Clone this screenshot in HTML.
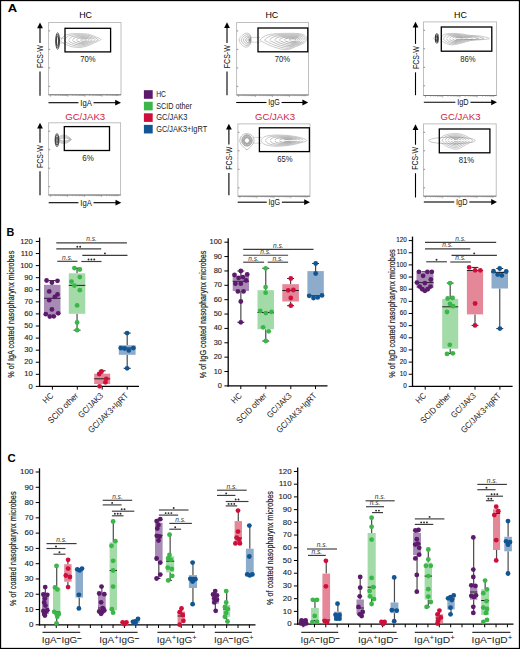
<!DOCTYPE html><html><head><meta charset="utf-8"><style>html,body{margin:0;padding:0;background:#fff;}svg{display:block;}text{font-family:"Liberation Sans", sans-serif;}</style></head><body>
<svg width="520" height="649" viewBox="0 0 520 649">
<rect x="0" y="0" width="520" height="649" fill="#fff"/>
<text x="7.70" y="11.50" font-size="11.0" text-anchor="start" fill="#000" font-weight="bold" textLength="9.4" lengthAdjust="spacingAndGlyphs" >A</text>
<text x="6.60" y="235.60" font-size="10.8" text-anchor="start" fill="#000" font-weight="bold" >B</text>
<text x="7.60" y="462.20" font-size="11.4" text-anchor="start" fill="#000" font-weight="bold" >C</text>
<rect x="48.60" y="22.50" width="72.40" height="72.30" fill="none" stroke="#b9b9b9" stroke-width="0.9"/>
<line x1="48.60" y1="94.80" x2="121.00" y2="94.80" stroke="#6a6a6a" stroke-width="0.9"/>
<line x1="48.60" y1="30.90" x2="50.20" y2="30.90" stroke="#777" stroke-width="0.8"/>
<line x1="48.60" y1="49.40" x2="50.20" y2="49.40" stroke="#777" stroke-width="0.8"/>
<line x1="48.60" y1="67.90" x2="50.20" y2="67.90" stroke="#777" stroke-width="0.8"/>
<line x1="48.60" y1="86.40" x2="50.20" y2="86.40" stroke="#777" stroke-width="0.8"/>
<line x1="50.60" y1="94.80" x2="50.60" y2="96.80" stroke="#888" stroke-width="0.6"/>
<line x1="55.75" y1="94.80" x2="55.75" y2="96.00" stroke="#888" stroke-width="0.6"/>
<line x1="58.76" y1="94.80" x2="58.76" y2="96.00" stroke="#888" stroke-width="0.6"/>
<line x1="60.90" y1="94.80" x2="60.90" y2="96.00" stroke="#888" stroke-width="0.6"/>
<line x1="62.55" y1="94.80" x2="62.55" y2="96.00" stroke="#888" stroke-width="0.6"/>
<line x1="63.91" y1="94.80" x2="63.91" y2="96.00" stroke="#888" stroke-width="0.6"/>
<line x1="65.05" y1="94.80" x2="65.05" y2="96.00" stroke="#888" stroke-width="0.6"/>
<line x1="66.04" y1="94.80" x2="66.04" y2="96.00" stroke="#888" stroke-width="0.6"/>
<line x1="66.92" y1="94.80" x2="66.92" y2="96.00" stroke="#888" stroke-width="0.6"/>
<line x1="67.70" y1="94.80" x2="67.70" y2="96.80" stroke="#888" stroke-width="0.6"/>
<line x1="72.85" y1="94.80" x2="72.85" y2="96.00" stroke="#888" stroke-width="0.6"/>
<line x1="75.86" y1="94.80" x2="75.86" y2="96.00" stroke="#888" stroke-width="0.6"/>
<line x1="78.00" y1="94.80" x2="78.00" y2="96.00" stroke="#888" stroke-width="0.6"/>
<line x1="79.65" y1="94.80" x2="79.65" y2="96.00" stroke="#888" stroke-width="0.6"/>
<line x1="81.01" y1="94.80" x2="81.01" y2="96.00" stroke="#888" stroke-width="0.6"/>
<line x1="82.15" y1="94.80" x2="82.15" y2="96.00" stroke="#888" stroke-width="0.6"/>
<line x1="83.14" y1="94.80" x2="83.14" y2="96.00" stroke="#888" stroke-width="0.6"/>
<line x1="84.02" y1="94.80" x2="84.02" y2="96.00" stroke="#888" stroke-width="0.6"/>
<line x1="84.80" y1="94.80" x2="84.80" y2="96.80" stroke="#888" stroke-width="0.6"/>
<line x1="89.95" y1="94.80" x2="89.95" y2="96.00" stroke="#888" stroke-width="0.6"/>
<line x1="92.96" y1="94.80" x2="92.96" y2="96.00" stroke="#888" stroke-width="0.6"/>
<line x1="95.10" y1="94.80" x2="95.10" y2="96.00" stroke="#888" stroke-width="0.6"/>
<line x1="96.75" y1="94.80" x2="96.75" y2="96.00" stroke="#888" stroke-width="0.6"/>
<line x1="98.11" y1="94.80" x2="98.11" y2="96.00" stroke="#888" stroke-width="0.6"/>
<line x1="99.25" y1="94.80" x2="99.25" y2="96.00" stroke="#888" stroke-width="0.6"/>
<line x1="100.24" y1="94.80" x2="100.24" y2="96.00" stroke="#888" stroke-width="0.6"/>
<line x1="101.12" y1="94.80" x2="101.12" y2="96.00" stroke="#888" stroke-width="0.6"/>
<line x1="101.90" y1="94.80" x2="101.90" y2="96.80" stroke="#888" stroke-width="0.6"/>
<line x1="107.05" y1="94.80" x2="107.05" y2="96.00" stroke="#888" stroke-width="0.6"/>
<line x1="110.06" y1="94.80" x2="110.06" y2="96.00" stroke="#888" stroke-width="0.6"/>
<line x1="112.20" y1="94.80" x2="112.20" y2="96.00" stroke="#888" stroke-width="0.6"/>
<line x1="113.85" y1="94.80" x2="113.85" y2="96.00" stroke="#888" stroke-width="0.6"/>
<line x1="115.21" y1="94.80" x2="115.21" y2="96.00" stroke="#888" stroke-width="0.6"/>
<line x1="116.35" y1="94.80" x2="116.35" y2="96.00" stroke="#888" stroke-width="0.6"/>
<line x1="117.34" y1="94.80" x2="117.34" y2="96.00" stroke="#888" stroke-width="0.6"/>
<line x1="118.22" y1="94.80" x2="118.22" y2="96.00" stroke="#888" stroke-width="0.6"/>
<ellipse cx="57.6" cy="41.0" rx="1.90" ry="8.20" fill="none" stroke="#2a2a2a" stroke-width="0.8"/>
<ellipse cx="57.6" cy="41.0" rx="1.47" ry="6.35" fill="none" stroke="#2a2a2a" stroke-width="0.8"/>
<ellipse cx="57.6" cy="41.0" rx="1.04" ry="4.51" fill="none" stroke="#2a2a2a" stroke-width="0.8"/>
<line x1="59.50" y1="38.20" x2="64.00" y2="38.20" stroke="#999" stroke-width="0.5"/>
<line x1="59.50" y1="43.00" x2="64.00" y2="43.00" stroke="#999" stroke-width="0.5"/>
<path d="M61.00,40.00 C61.42,39.00 62.50,37.00 64.00,36.00 C65.50,35.00 67.33,34.40 70.00,34.00 C72.67,33.60 77.00,33.57 80.00,33.60 C83.00,33.63 85.50,33.72 88.00,34.20 C90.50,34.68 92.87,35.63 95.00,36.50 C97.13,37.37 100.63,38.48 100.80,39.40 C100.97,40.32 97.97,41.02 96.00,42.00 C94.03,42.98 91.50,44.40 89.00,45.30 C86.50,46.20 83.83,47.15 81.00,47.40 C78.17,47.65 74.67,47.37 72.00,46.80 C69.33,46.23 66.75,44.80 65.00,44.00 C63.25,43.20 62.17,42.67 61.50,42.00 C60.83,41.33 60.58,41.00 61.00,40.00 Z" fill="none" stroke="#969696" stroke-width="0.5"/>
<path d="M64.91,40.00 C65.26,39.17 66.16,37.51 67.40,36.68 C68.65,35.85 70.17,35.35 72.38,35.02 C74.59,34.69 78.19,34.66 80.68,34.69 C83.17,34.72 85.24,34.78 87.32,35.19 C89.39,35.59 91.36,36.38 93.13,37.09 C94.90,37.81 97.81,38.74 97.94,39.50 C98.08,40.26 95.59,40.84 93.96,41.66 C92.33,42.48 90.23,43.65 88.15,44.40 C86.08,45.15 83.86,45.93 81.51,46.14 C79.16,46.35 76.25,46.11 74.04,45.64 C71.83,45.17 69.68,43.98 68.23,43.32 C66.78,42.66 65.88,42.21 65.33,41.66 C64.77,41.11 64.56,40.83 64.91,40.00 Z" fill="none" stroke="#888888" stroke-width="0.5"/>
<path d="M68.82,40.00 C69.09,39.34 69.81,38.02 70.80,37.36 C71.79,36.70 73.00,36.30 74.76,36.04 C76.52,35.78 79.38,35.75 81.36,35.78 C83.34,35.80 84.99,35.85 86.64,36.17 C88.29,36.49 89.85,37.12 91.26,37.69 C92.67,38.26 94.98,39.00 95.09,39.60 C95.20,40.21 93.22,40.67 91.92,41.32 C90.62,41.97 88.95,42.90 87.30,43.50 C85.65,44.09 83.89,44.72 82.02,44.88 C80.15,45.05 77.84,44.86 76.08,44.49 C74.32,44.11 72.61,43.17 71.46,42.64 C70.30,42.11 69.59,41.76 69.15,41.32 C68.71,40.88 68.54,40.66 68.82,40.00 Z" fill="none" stroke="#7a7a7a" stroke-width="0.5"/>
<path d="M72.73,40.00 C72.93,39.51 73.47,38.53 74.20,38.04 C74.94,37.55 75.83,37.26 77.14,37.06 C78.45,36.86 80.57,36.85 82.04,36.86 C83.51,36.88 84.73,36.92 85.96,37.16 C87.18,37.39 88.34,37.86 89.39,38.28 C90.44,38.71 92.15,39.26 92.23,39.71 C92.31,40.16 90.84,40.50 89.88,40.98 C88.92,41.46 87.67,42.16 86.45,42.60 C85.23,43.04 83.92,43.50 82.53,43.63 C81.14,43.75 79.43,43.61 78.12,43.33 C76.81,43.05 75.55,42.35 74.69,41.96 C73.83,41.57 73.30,41.31 72.97,40.98 C72.65,40.65 72.53,40.49 72.73,40.00 Z" fill="none" stroke="#6c6c6c" stroke-width="0.5"/>
<path d="M76.64,40.00 C76.77,39.68 77.12,39.04 77.60,38.72 C78.08,38.40 78.67,38.21 79.52,38.08 C80.37,37.95 81.76,37.94 82.72,37.95 C83.68,37.96 84.48,37.99 85.28,38.14 C86.08,38.30 86.84,38.60 87.52,38.88 C88.20,39.16 89.32,39.51 89.38,39.81 C89.43,40.10 88.47,40.33 87.84,40.64 C87.21,40.95 86.40,41.41 85.60,41.70 C84.80,41.98 83.95,42.29 83.04,42.37 C82.13,42.45 81.01,42.36 80.16,42.18 C79.31,41.99 78.48,41.54 77.92,41.28 C77.36,41.02 77.01,40.85 76.80,40.64 C76.59,40.43 76.51,40.32 76.64,40.00 Z" fill="none" stroke="#5e5e5e" stroke-width="0.5"/>
<path d="M80.55,40.00 C80.61,39.85 80.78,39.55 81.00,39.40 C81.22,39.25 81.50,39.16 81.90,39.10 C82.30,39.04 82.95,39.03 83.40,39.04 C83.85,39.05 84.22,39.06 84.60,39.13 C84.97,39.20 85.33,39.34 85.65,39.48 C85.97,39.61 86.50,39.77 86.52,39.91 C86.54,40.05 86.09,40.15 85.80,40.30 C85.50,40.45 85.12,40.66 84.75,40.80 C84.38,40.93 83.97,41.07 83.55,41.11 C83.12,41.15 82.60,41.11 82.20,41.02 C81.80,40.94 81.41,40.72 81.15,40.60 C80.89,40.48 80.72,40.40 80.62,40.30 C80.53,40.20 80.49,40.15 80.55,40.00 Z" fill="none" stroke="#505050" stroke-width="0.5"/>
<line x1="67.00" y1="40.00" x2="96.00" y2="40.00" stroke="#fff" stroke-width="0.7"/>
<rect x="65.00" y="28.30" width="45.60" height="23.60" fill="none" stroke="#000" stroke-width="1.3"/>
<text x="88.00" y="62.00" font-size="8.2" text-anchor="middle" fill="#222" textLength="15.4" lengthAdjust="spacingAndGlyphs" >70%</text>
<text x="85.60" y="18.10" font-size="9.3" text-anchor="middle" fill="#000" textLength="12.8" lengthAdjust="spacingAndGlyphs" >HC</text>
<line x1="40.00" y1="95.80" x2="40.00" y2="71.45" stroke="#000" stroke-width="1.1"/>
<line x1="40.00" y1="42.95" x2="40.00" y2="27.40" stroke="#000" stroke-width="1.1"/>
<path d="M37.10,28.20 L40.00,22.40 L42.90,28.20 Z" fill="#000"/>
<text x="43.00" y="56.60" font-size="9.8" text-anchor="middle" fill="#111" textLength="22.900000000000002" lengthAdjust="spacingAndGlyphs" transform="rotate(-90 43.00 56.60)" >FCS-W</text>
<line x1="48.50" y1="102.70" x2="78.45" y2="102.70" stroke="#000" stroke-width="1.1"/>
<line x1="93.55" y1="102.70" x2="116.00" y2="102.70" stroke="#000" stroke-width="1.1"/>
<path d="M115.20,99.80 L121.00,102.70 L115.20,105.60 Z" fill="#000"/>
<text x="86.00" y="105.60" font-size="9.0" text-anchor="middle" fill="#111" textLength="11.5" lengthAdjust="spacingAndGlyphs" >IgA</text>
<rect x="48.60" y="122.80" width="72.00" height="72.20" fill="none" stroke="#b9b9b9" stroke-width="0.9"/>
<line x1="48.60" y1="195.00" x2="120.60" y2="195.00" stroke="#6a6a6a" stroke-width="0.9"/>
<line x1="48.60" y1="131.20" x2="50.20" y2="131.20" stroke="#777" stroke-width="0.8"/>
<line x1="48.60" y1="149.70" x2="50.20" y2="149.70" stroke="#777" stroke-width="0.8"/>
<line x1="48.60" y1="168.20" x2="50.20" y2="168.20" stroke="#777" stroke-width="0.8"/>
<line x1="48.60" y1="186.70" x2="50.20" y2="186.70" stroke="#777" stroke-width="0.8"/>
<line x1="50.60" y1="195.00" x2="50.60" y2="197.00" stroke="#888" stroke-width="0.6"/>
<line x1="55.72" y1="195.00" x2="55.72" y2="196.20" stroke="#888" stroke-width="0.6"/>
<line x1="58.71" y1="195.00" x2="58.71" y2="196.20" stroke="#888" stroke-width="0.6"/>
<line x1="60.84" y1="195.00" x2="60.84" y2="196.20" stroke="#888" stroke-width="0.6"/>
<line x1="62.48" y1="195.00" x2="62.48" y2="196.20" stroke="#888" stroke-width="0.6"/>
<line x1="63.83" y1="195.00" x2="63.83" y2="196.20" stroke="#888" stroke-width="0.6"/>
<line x1="64.97" y1="195.00" x2="64.97" y2="196.20" stroke="#888" stroke-width="0.6"/>
<line x1="65.95" y1="195.00" x2="65.95" y2="196.20" stroke="#888" stroke-width="0.6"/>
<line x1="66.82" y1="195.00" x2="66.82" y2="196.20" stroke="#888" stroke-width="0.6"/>
<line x1="67.60" y1="195.00" x2="67.60" y2="197.00" stroke="#888" stroke-width="0.6"/>
<line x1="72.72" y1="195.00" x2="72.72" y2="196.20" stroke="#888" stroke-width="0.6"/>
<line x1="75.71" y1="195.00" x2="75.71" y2="196.20" stroke="#888" stroke-width="0.6"/>
<line x1="77.84" y1="195.00" x2="77.84" y2="196.20" stroke="#888" stroke-width="0.6"/>
<line x1="79.48" y1="195.00" x2="79.48" y2="196.20" stroke="#888" stroke-width="0.6"/>
<line x1="80.83" y1="195.00" x2="80.83" y2="196.20" stroke="#888" stroke-width="0.6"/>
<line x1="81.97" y1="195.00" x2="81.97" y2="196.20" stroke="#888" stroke-width="0.6"/>
<line x1="82.95" y1="195.00" x2="82.95" y2="196.20" stroke="#888" stroke-width="0.6"/>
<line x1="83.82" y1="195.00" x2="83.82" y2="196.20" stroke="#888" stroke-width="0.6"/>
<line x1="84.60" y1="195.00" x2="84.60" y2="197.00" stroke="#888" stroke-width="0.6"/>
<line x1="89.72" y1="195.00" x2="89.72" y2="196.20" stroke="#888" stroke-width="0.6"/>
<line x1="92.71" y1="195.00" x2="92.71" y2="196.20" stroke="#888" stroke-width="0.6"/>
<line x1="94.84" y1="195.00" x2="94.84" y2="196.20" stroke="#888" stroke-width="0.6"/>
<line x1="96.48" y1="195.00" x2="96.48" y2="196.20" stroke="#888" stroke-width="0.6"/>
<line x1="97.83" y1="195.00" x2="97.83" y2="196.20" stroke="#888" stroke-width="0.6"/>
<line x1="98.97" y1="195.00" x2="98.97" y2="196.20" stroke="#888" stroke-width="0.6"/>
<line x1="99.95" y1="195.00" x2="99.95" y2="196.20" stroke="#888" stroke-width="0.6"/>
<line x1="100.82" y1="195.00" x2="100.82" y2="196.20" stroke="#888" stroke-width="0.6"/>
<line x1="101.60" y1="195.00" x2="101.60" y2="197.00" stroke="#888" stroke-width="0.6"/>
<line x1="106.72" y1="195.00" x2="106.72" y2="196.20" stroke="#888" stroke-width="0.6"/>
<line x1="109.71" y1="195.00" x2="109.71" y2="196.20" stroke="#888" stroke-width="0.6"/>
<line x1="111.84" y1="195.00" x2="111.84" y2="196.20" stroke="#888" stroke-width="0.6"/>
<line x1="113.48" y1="195.00" x2="113.48" y2="196.20" stroke="#888" stroke-width="0.6"/>
<line x1="114.83" y1="195.00" x2="114.83" y2="196.20" stroke="#888" stroke-width="0.6"/>
<line x1="115.97" y1="195.00" x2="115.97" y2="196.20" stroke="#888" stroke-width="0.6"/>
<line x1="116.95" y1="195.00" x2="116.95" y2="196.20" stroke="#888" stroke-width="0.6"/>
<line x1="117.82" y1="195.00" x2="117.82" y2="196.20" stroke="#888" stroke-width="0.6"/>
<path d="M57.50,139.50 C59.12,135.00 63.35,135.00 64.00,135.00 C67.38,135.00 70.00,137.93 71.50,139.50 C70.00,140.94 67.38,143.60 64.00,143.60 C63.35,143.60 59.12,143.60 57.50,139.50 Z" fill="none" stroke="#9a9a9a" stroke-width="0.5"/>
<path d="M58.23,139.50 C59.67,136.01 63.42,136.01 64.00,136.01 C67.19,136.01 69.66,138.28 71.08,139.50 C69.66,140.61 67.19,142.68 64.00,142.68 C63.42,142.68 59.67,142.68 58.23,139.50 Z" fill="none" stroke="#9a9a9a" stroke-width="0.5"/>
<path d="M58.96,139.50 C60.22,137.03 63.50,137.03 64.00,137.03 C67.00,137.03 69.33,138.63 70.66,139.50 C69.33,140.29 67.00,141.75 64.00,141.75 C63.50,141.75 60.22,141.75 58.96,139.50 Z" fill="none" stroke="#9a9a9a" stroke-width="0.5"/>
<path d="M59.69,139.50 C60.77,138.04 63.57,138.04 64.00,138.04 C66.81,138.04 68.99,138.99 70.23,139.50 C68.99,139.97 66.81,140.83 64.00,140.83 C63.57,140.83 60.77,140.83 59.69,139.50 Z" fill="none" stroke="#9a9a9a" stroke-width="0.5"/>
<ellipse cx="57.0" cy="140.1" rx="1.90" ry="6.60" fill="none" stroke="#2a2a2a" stroke-width="0.8"/>
<ellipse cx="57.0" cy="140.1" rx="1.42" ry="4.95" fill="none" stroke="#2a2a2a" stroke-width="0.8"/>
<ellipse cx="57.0" cy="140.1" rx="0.95" ry="3.30" fill="none" stroke="#2a2a2a" stroke-width="0.8"/>
<rect x="64.30" y="126.60" width="45.20" height="23.90" fill="none" stroke="#000" stroke-width="1.3"/>
<text x="88.10" y="160.70" font-size="8.2" text-anchor="middle" fill="#222" textLength="11.6" lengthAdjust="spacingAndGlyphs" >6%</text>
<text x="85.20" y="120.00" font-size="9.3" text-anchor="middle" fill="#d0233f" textLength="40.0" lengthAdjust="spacingAndGlyphs" >GC/JAK3</text>
<line x1="40.00" y1="195.30" x2="40.00" y2="171.35" stroke="#000" stroke-width="1.1"/>
<line x1="40.00" y1="142.85" x2="40.00" y2="127.70" stroke="#000" stroke-width="1.1"/>
<path d="M37.10,128.50 L40.00,122.70 L42.90,128.50 Z" fill="#000"/>
<text x="43.00" y="156.50" font-size="9.8" text-anchor="middle" fill="#111" textLength="22.900000000000002" lengthAdjust="spacingAndGlyphs" transform="rotate(-90 43.00 156.50)" >FCS-W</text>
<line x1="48.70" y1="202.70" x2="78.45" y2="202.70" stroke="#000" stroke-width="1.1"/>
<line x1="93.55" y1="202.70" x2="116.30" y2="202.70" stroke="#000" stroke-width="1.1"/>
<path d="M115.50,199.80 L121.30,202.70 L115.50,205.60 Z" fill="#000"/>
<text x="86.00" y="205.60" font-size="9.0" text-anchor="middle" fill="#111" textLength="11.5" lengthAdjust="spacingAndGlyphs" >IgA</text>
<rect x="236.60" y="22.50" width="71.90" height="72.50" fill="none" stroke="#b9b9b9" stroke-width="0.9"/>
<line x1="236.60" y1="95.00" x2="308.50" y2="95.00" stroke="#6a6a6a" stroke-width="0.9"/>
<line x1="236.60" y1="30.90" x2="238.20" y2="30.90" stroke="#777" stroke-width="0.8"/>
<line x1="236.60" y1="49.40" x2="238.20" y2="49.40" stroke="#777" stroke-width="0.8"/>
<line x1="236.60" y1="67.90" x2="238.20" y2="67.90" stroke="#777" stroke-width="0.8"/>
<line x1="236.60" y1="86.40" x2="238.20" y2="86.40" stroke="#777" stroke-width="0.8"/>
<line x1="238.60" y1="95.00" x2="238.60" y2="97.00" stroke="#888" stroke-width="0.6"/>
<line x1="243.71" y1="95.00" x2="243.71" y2="96.20" stroke="#888" stroke-width="0.6"/>
<line x1="246.70" y1="95.00" x2="246.70" y2="96.20" stroke="#888" stroke-width="0.6"/>
<line x1="248.82" y1="95.00" x2="248.82" y2="96.20" stroke="#888" stroke-width="0.6"/>
<line x1="250.47" y1="95.00" x2="250.47" y2="96.20" stroke="#888" stroke-width="0.6"/>
<line x1="251.81" y1="95.00" x2="251.81" y2="96.20" stroke="#888" stroke-width="0.6"/>
<line x1="252.95" y1="95.00" x2="252.95" y2="96.20" stroke="#888" stroke-width="0.6"/>
<line x1="253.93" y1="95.00" x2="253.93" y2="96.20" stroke="#888" stroke-width="0.6"/>
<line x1="254.80" y1="95.00" x2="254.80" y2="96.20" stroke="#888" stroke-width="0.6"/>
<line x1="255.57" y1="95.00" x2="255.57" y2="97.00" stroke="#888" stroke-width="0.6"/>
<line x1="260.68" y1="95.00" x2="260.68" y2="96.20" stroke="#888" stroke-width="0.6"/>
<line x1="263.67" y1="95.00" x2="263.67" y2="96.20" stroke="#888" stroke-width="0.6"/>
<line x1="265.79" y1="95.00" x2="265.79" y2="96.20" stroke="#888" stroke-width="0.6"/>
<line x1="267.44" y1="95.00" x2="267.44" y2="96.20" stroke="#888" stroke-width="0.6"/>
<line x1="268.78" y1="95.00" x2="268.78" y2="96.20" stroke="#888" stroke-width="0.6"/>
<line x1="269.92" y1="95.00" x2="269.92" y2="96.20" stroke="#888" stroke-width="0.6"/>
<line x1="270.90" y1="95.00" x2="270.90" y2="96.20" stroke="#888" stroke-width="0.6"/>
<line x1="271.77" y1="95.00" x2="271.77" y2="96.20" stroke="#888" stroke-width="0.6"/>
<line x1="272.55" y1="95.00" x2="272.55" y2="97.00" stroke="#888" stroke-width="0.6"/>
<line x1="277.66" y1="95.00" x2="277.66" y2="96.20" stroke="#888" stroke-width="0.6"/>
<line x1="280.65" y1="95.00" x2="280.65" y2="96.20" stroke="#888" stroke-width="0.6"/>
<line x1="282.77" y1="95.00" x2="282.77" y2="96.20" stroke="#888" stroke-width="0.6"/>
<line x1="284.42" y1="95.00" x2="284.42" y2="96.20" stroke="#888" stroke-width="0.6"/>
<line x1="285.76" y1="95.00" x2="285.76" y2="96.20" stroke="#888" stroke-width="0.6"/>
<line x1="286.90" y1="95.00" x2="286.90" y2="96.20" stroke="#888" stroke-width="0.6"/>
<line x1="287.88" y1="95.00" x2="287.88" y2="96.20" stroke="#888" stroke-width="0.6"/>
<line x1="288.75" y1="95.00" x2="288.75" y2="96.20" stroke="#888" stroke-width="0.6"/>
<line x1="289.52" y1="95.00" x2="289.52" y2="97.00" stroke="#888" stroke-width="0.6"/>
<line x1="294.63" y1="95.00" x2="294.63" y2="96.20" stroke="#888" stroke-width="0.6"/>
<line x1="297.62" y1="95.00" x2="297.62" y2="96.20" stroke="#888" stroke-width="0.6"/>
<line x1="299.74" y1="95.00" x2="299.74" y2="96.20" stroke="#888" stroke-width="0.6"/>
<line x1="301.39" y1="95.00" x2="301.39" y2="96.20" stroke="#888" stroke-width="0.6"/>
<line x1="302.73" y1="95.00" x2="302.73" y2="96.20" stroke="#888" stroke-width="0.6"/>
<line x1="303.87" y1="95.00" x2="303.87" y2="96.20" stroke="#888" stroke-width="0.6"/>
<line x1="304.85" y1="95.00" x2="304.85" y2="96.20" stroke="#888" stroke-width="0.6"/>
<line x1="305.72" y1="95.00" x2="305.72" y2="96.20" stroke="#888" stroke-width="0.6"/>
<path d="M239.10,40.00 C239.10,38.42 240.85,36.63 242.00,35.50 C243.15,34.37 244.75,33.45 246.00,33.20 C247.25,32.95 248.67,33.37 249.50,34.00 C250.33,34.63 250.75,35.67 251.00,37.00 C251.25,38.33 251.25,40.58 251.00,42.00 C250.75,43.42 250.33,44.63 249.50,45.50 C248.67,46.37 247.25,47.28 246.00,47.20 C244.75,47.12 243.15,46.20 242.00,45.00 C240.85,43.80 239.10,41.58 239.10,40.00 Z" fill="none" stroke="#969696" stroke-width="0.5"/>
<path d="M241.27,40.00 C241.27,38.75 242.65,37.35 243.55,36.46 C244.46,35.56 245.72,34.84 246.70,34.65 C247.69,34.45 248.80,34.78 249.46,35.27 C250.11,35.77 250.44,36.59 250.64,37.64 C250.84,38.69 250.84,40.46 250.64,41.58 C250.44,42.69 250.11,43.65 249.46,44.33 C248.80,45.01 247.69,45.74 246.70,45.67 C245.72,45.60 244.46,44.88 243.55,43.94 C242.65,42.99 241.27,41.25 241.27,40.00 Z" fill="none" stroke="#848484" stroke-width="0.5"/>
<path d="M243.44,40.00 C243.44,39.09 244.44,38.06 245.10,37.41 C245.76,36.76 246.68,36.23 247.40,36.09 C248.12,35.95 248.94,36.19 249.41,36.55 C249.89,36.91 250.13,37.51 250.28,38.27 C250.42,39.04 250.42,40.34 250.28,41.15 C250.13,41.96 249.89,42.66 249.41,43.16 C248.94,43.66 248.12,44.19 247.40,44.14 C246.68,44.09 245.76,43.56 245.10,42.88 C244.44,42.19 243.44,40.91 243.44,40.00 Z" fill="none" stroke="#737373" stroke-width="0.5"/>
<path d="M245.60,40.00 C245.60,39.43 246.24,38.78 246.65,38.37 C247.07,37.96 247.65,37.63 248.10,37.54 C248.56,37.44 249.07,37.60 249.37,37.83 C249.67,38.05 249.83,38.43 249.92,38.91 C250.01,39.40 250.01,40.21 249.92,40.73 C249.83,41.24 249.67,41.68 249.37,41.99 C249.07,42.31 248.56,42.64 248.10,42.61 C247.65,42.58 247.07,42.25 246.65,41.81 C246.24,41.38 245.60,40.57 245.60,40.00 Z" fill="none" stroke="#616161" stroke-width="0.5"/>
<path d="M247.77,40.00 C247.77,39.76 248.03,39.50 248.21,39.33 C248.38,39.16 248.62,39.02 248.81,38.98 C248.99,38.94 249.21,39.01 249.33,39.10 C249.46,39.20 249.52,39.35 249.56,39.55 C249.59,39.75 249.59,40.09 249.56,40.30 C249.52,40.51 249.46,40.70 249.33,40.83 C249.21,40.96 248.99,41.09 248.81,41.08 C248.62,41.07 248.38,40.93 248.21,40.75 C248.03,40.57 247.77,40.24 247.77,40.00 Z" fill="none" stroke="#505050" stroke-width="0.5"/>
<line x1="250.50" y1="37.40" x2="260.00" y2="37.40" stroke="#aaa" stroke-width="0.5"/>
<line x1="250.50" y1="42.20" x2="260.00" y2="42.20" stroke="#aaa" stroke-width="0.5"/>
<path d="M260.00,40.00 C260.50,38.92 263.50,36.53 266.00,35.50 C268.50,34.47 271.00,34.17 275.00,33.80 C279.00,33.43 285.83,33.30 290.00,33.30 C294.17,33.30 297.42,33.35 300.00,33.80 C302.58,34.25 304.42,34.97 305.50,36.00 C306.58,37.03 306.92,38.75 306.50,40.00 C306.08,41.25 304.75,42.42 303.00,43.50 C301.25,44.58 298.50,45.50 296.00,46.50 C293.50,47.50 290.67,49.12 288.00,49.50 C285.33,49.88 283.00,49.47 280.00,48.80 C277.00,48.13 272.83,46.63 270.00,45.50 C267.17,44.37 264.67,42.92 263.00,42.00 C261.33,41.08 259.50,41.08 260.00,40.00 Z" fill="none" stroke="#969696" stroke-width="0.5"/>
<path d="M264.82,40.00 C265.25,39.07 267.82,37.02 269.97,36.14 C272.11,35.25 274.26,34.99 277.69,34.68 C281.12,34.36 286.99,34.25 290.57,34.25 C294.14,34.25 296.93,34.29 299.15,34.68 C301.37,35.06 302.94,35.68 303.87,36.57 C304.80,37.45 305.09,38.93 304.73,40.00 C304.37,41.07 303.23,42.07 301.73,43.00 C300.22,43.93 297.86,44.72 295.72,45.58 C293.57,46.44 291.14,47.83 288.85,48.15 C286.56,48.48 284.56,48.13 281.98,47.55 C279.41,46.98 275.83,45.69 273.40,44.72 C270.97,43.75 268.82,42.50 267.39,41.72 C265.96,40.93 264.39,40.93 264.82,40.00 Z" fill="none" stroke="#8a8a8a" stroke-width="0.5"/>
<path d="M269.63,40.00 C269.99,39.22 272.14,37.52 273.93,36.77 C275.73,36.03 277.52,35.82 280.38,35.56 C283.25,35.29 288.15,35.20 291.13,35.20 C294.12,35.20 296.45,35.23 298.30,35.56 C300.15,35.88 301.47,36.39 302.24,37.13 C303.02,37.87 303.26,39.10 302.96,40.00 C302.66,40.90 301.70,41.73 300.45,42.51 C299.20,43.28 297.23,43.94 295.43,44.66 C293.64,45.38 291.61,46.53 289.70,46.81 C287.79,47.08 286.12,46.78 283.97,46.31 C281.82,45.83 278.83,44.75 276.80,43.94 C274.77,43.13 272.98,42.09 271.78,41.43 C270.59,40.78 269.27,40.78 269.63,40.00 Z" fill="none" stroke="#7e7e7e" stroke-width="0.5"/>
<path d="M274.45,40.00 C274.74,39.38 276.46,38.01 277.90,37.41 C279.34,36.82 280.77,36.65 283.07,36.44 C285.38,36.22 289.30,36.15 291.70,36.15 C294.10,36.15 295.96,36.18 297.45,36.44 C298.94,36.69 299.99,37.11 300.61,37.70 C301.24,38.29 301.43,39.28 301.19,40.00 C300.95,40.72 300.18,41.39 299.18,42.01 C298.17,42.64 296.59,43.16 295.15,43.74 C293.71,44.31 292.08,45.24 290.55,45.46 C289.02,45.68 287.68,45.44 285.95,45.06 C284.22,44.68 281.83,43.81 280.20,43.16 C278.57,42.51 277.13,41.68 276.18,41.15 C275.22,40.62 274.16,40.62 274.45,40.00 Z" fill="none" stroke="#737373" stroke-width="0.5"/>
<path d="M279.27,40.00 C279.48,39.53 280.78,38.50 281.87,38.05 C282.95,37.60 284.03,37.47 285.77,37.31 C287.50,37.15 290.46,37.10 292.27,37.10 C294.07,37.10 295.48,37.12 296.60,37.31 C297.72,37.51 298.51,37.82 298.98,38.27 C299.45,38.71 299.60,39.46 299.42,40.00 C299.24,40.54 298.66,41.05 297.90,41.52 C297.14,41.99 295.95,42.38 294.87,42.82 C293.78,43.25 292.56,43.95 291.40,44.12 C290.24,44.28 289.23,44.10 287.93,43.81 C286.63,43.52 284.83,42.87 283.60,42.38 C282.37,41.89 281.29,41.26 280.57,40.87 C279.84,40.47 279.05,40.47 279.27,40.00 Z" fill="none" stroke="#676767" stroke-width="0.5"/>
<path d="M284.08,40.00 C284.23,39.68 285.10,38.99 285.83,38.69 C286.56,38.39 287.29,38.30 288.46,38.19 C289.62,38.08 291.62,38.05 292.83,38.05 C294.05,38.05 295.00,38.06 295.75,38.19 C296.50,38.32 297.04,38.53 297.35,38.83 C297.67,39.13 297.77,39.64 297.65,40.00 C297.52,40.36 297.14,40.70 296.62,41.02 C296.11,41.34 295.31,41.60 294.58,41.90 C293.85,42.19 293.03,42.66 292.25,42.77 C291.47,42.88 290.79,42.76 289.92,42.57 C289.04,42.37 287.83,41.93 287.00,41.60 C286.17,41.27 285.44,40.85 284.96,40.58 C284.47,40.32 283.94,40.32 284.08,40.00 Z" fill="none" stroke="#5b5b5b" stroke-width="0.5"/>
<path d="M288.90,40.00 C288.97,39.84 289.43,39.48 289.80,39.33 C290.18,39.17 290.55,39.12 291.15,39.07 C291.75,39.02 292.77,38.99 293.40,38.99 C294.02,38.99 294.51,39.00 294.90,39.07 C295.29,39.14 295.56,39.24 295.73,39.40 C295.89,39.55 295.94,39.81 295.88,40.00 C295.81,40.19 295.61,40.36 295.35,40.52 C295.09,40.69 294.68,40.83 294.30,40.98 C293.93,41.12 293.50,41.37 293.10,41.42 C292.70,41.48 292.35,41.42 291.90,41.32 C291.45,41.22 290.82,41.00 290.40,40.83 C289.97,40.66 289.60,40.44 289.35,40.30 C289.10,40.16 288.82,40.16 288.90,40.00 Z" fill="none" stroke="#505050" stroke-width="0.5"/>
<line x1="268.00" y1="40.20" x2="305.00" y2="40.20" stroke="#fff" stroke-width="0.7"/>
<rect x="258.00" y="28.00" width="49.80" height="23.80" fill="none" stroke="#000" stroke-width="1.3"/>
<text x="282.50" y="62.00" font-size="8.2" text-anchor="middle" fill="#222" textLength="15.4" lengthAdjust="spacingAndGlyphs" >70%</text>
<text x="271.80" y="18.10" font-size="9.3" text-anchor="middle" fill="#000" textLength="12.8" lengthAdjust="spacingAndGlyphs" >HC</text>
<line x1="227.00" y1="95.30" x2="227.00" y2="71.55" stroke="#000" stroke-width="1.1"/>
<line x1="227.00" y1="43.05" x2="227.00" y2="27.20" stroke="#000" stroke-width="1.1"/>
<path d="M224.10,28.00 L227.00,22.20 L229.90,28.00 Z" fill="#000"/>
<text x="230.00" y="56.70" font-size="9.8" text-anchor="middle" fill="#111" textLength="22.900000000000002" lengthAdjust="spacingAndGlyphs" transform="rotate(-90 230.00 56.70)" >FCS-W</text>
<line x1="236.20" y1="102.50" x2="266.45" y2="102.50" stroke="#000" stroke-width="1.1"/>
<line x1="281.55" y1="102.50" x2="303.20" y2="102.50" stroke="#000" stroke-width="1.1"/>
<path d="M302.40,99.60 L308.20,102.50 L302.40,105.40 Z" fill="#000"/>
<text x="274.00" y="105.40" font-size="9.0" text-anchor="middle" fill="#111" textLength="11.5" lengthAdjust="spacingAndGlyphs" >IgG</text>
<rect x="237.90" y="123.90" width="72.10" height="72.30" fill="none" stroke="#b9b9b9" stroke-width="0.9"/>
<line x1="237.90" y1="196.20" x2="310.00" y2="196.20" stroke="#6a6a6a" stroke-width="0.9"/>
<line x1="237.90" y1="132.30" x2="239.50" y2="132.30" stroke="#777" stroke-width="0.8"/>
<line x1="237.90" y1="150.80" x2="239.50" y2="150.80" stroke="#777" stroke-width="0.8"/>
<line x1="237.90" y1="169.30" x2="239.50" y2="169.30" stroke="#777" stroke-width="0.8"/>
<line x1="237.90" y1="187.80" x2="239.50" y2="187.80" stroke="#777" stroke-width="0.8"/>
<line x1="239.90" y1="196.20" x2="239.90" y2="198.20" stroke="#888" stroke-width="0.6"/>
<line x1="245.03" y1="196.20" x2="245.03" y2="197.40" stroke="#888" stroke-width="0.6"/>
<line x1="248.02" y1="196.20" x2="248.02" y2="197.40" stroke="#888" stroke-width="0.6"/>
<line x1="250.15" y1="196.20" x2="250.15" y2="197.40" stroke="#888" stroke-width="0.6"/>
<line x1="251.80" y1="196.20" x2="251.80" y2="197.40" stroke="#888" stroke-width="0.6"/>
<line x1="253.15" y1="196.20" x2="253.15" y2="197.40" stroke="#888" stroke-width="0.6"/>
<line x1="254.29" y1="196.20" x2="254.29" y2="197.40" stroke="#888" stroke-width="0.6"/>
<line x1="255.28" y1="196.20" x2="255.28" y2="197.40" stroke="#888" stroke-width="0.6"/>
<line x1="256.15" y1="196.20" x2="256.15" y2="197.40" stroke="#888" stroke-width="0.6"/>
<line x1="256.93" y1="196.20" x2="256.93" y2="198.20" stroke="#888" stroke-width="0.6"/>
<line x1="262.05" y1="196.20" x2="262.05" y2="197.40" stroke="#888" stroke-width="0.6"/>
<line x1="265.05" y1="196.20" x2="265.05" y2="197.40" stroke="#888" stroke-width="0.6"/>
<line x1="267.18" y1="196.20" x2="267.18" y2="197.40" stroke="#888" stroke-width="0.6"/>
<line x1="268.82" y1="196.20" x2="268.82" y2="197.40" stroke="#888" stroke-width="0.6"/>
<line x1="270.17" y1="196.20" x2="270.17" y2="197.40" stroke="#888" stroke-width="0.6"/>
<line x1="271.31" y1="196.20" x2="271.31" y2="197.40" stroke="#888" stroke-width="0.6"/>
<line x1="272.30" y1="196.20" x2="272.30" y2="197.40" stroke="#888" stroke-width="0.6"/>
<line x1="273.17" y1="196.20" x2="273.17" y2="197.40" stroke="#888" stroke-width="0.6"/>
<line x1="273.95" y1="196.20" x2="273.95" y2="198.20" stroke="#888" stroke-width="0.6"/>
<line x1="279.08" y1="196.20" x2="279.08" y2="197.40" stroke="#888" stroke-width="0.6"/>
<line x1="282.07" y1="196.20" x2="282.07" y2="197.40" stroke="#888" stroke-width="0.6"/>
<line x1="284.20" y1="196.20" x2="284.20" y2="197.40" stroke="#888" stroke-width="0.6"/>
<line x1="285.85" y1="196.20" x2="285.85" y2="197.40" stroke="#888" stroke-width="0.6"/>
<line x1="287.20" y1="196.20" x2="287.20" y2="197.40" stroke="#888" stroke-width="0.6"/>
<line x1="288.34" y1="196.20" x2="288.34" y2="197.40" stroke="#888" stroke-width="0.6"/>
<line x1="289.33" y1="196.20" x2="289.33" y2="197.40" stroke="#888" stroke-width="0.6"/>
<line x1="290.20" y1="196.20" x2="290.20" y2="197.40" stroke="#888" stroke-width="0.6"/>
<line x1="290.98" y1="196.20" x2="290.98" y2="198.20" stroke="#888" stroke-width="0.6"/>
<line x1="296.10" y1="196.20" x2="296.10" y2="197.40" stroke="#888" stroke-width="0.6"/>
<line x1="299.10" y1="196.20" x2="299.10" y2="197.40" stroke="#888" stroke-width="0.6"/>
<line x1="301.23" y1="196.20" x2="301.23" y2="197.40" stroke="#888" stroke-width="0.6"/>
<line x1="302.87" y1="196.20" x2="302.87" y2="197.40" stroke="#888" stroke-width="0.6"/>
<line x1="304.22" y1="196.20" x2="304.22" y2="197.40" stroke="#888" stroke-width="0.6"/>
<line x1="305.36" y1="196.20" x2="305.36" y2="197.40" stroke="#888" stroke-width="0.6"/>
<line x1="306.35" y1="196.20" x2="306.35" y2="197.40" stroke="#888" stroke-width="0.6"/>
<line x1="307.22" y1="196.20" x2="307.22" y2="197.40" stroke="#888" stroke-width="0.6"/>
<path d="M239.8,140.5 C240.5,135 244,133.7 247,133.7 C251,133.7 254,136.5 254,140.5 C254,144 250,147.5 247,150 C244,147.5 239.5,144 239.8,140.5 Z" fill="none" stroke="#888" stroke-width="0.55"/>
<ellipse cx="247.0" cy="140.5" rx="5.20" ry="5.60" fill="none" stroke="#666" stroke-width="0.6"/>
<ellipse cx="247.0" cy="140.5" rx="4.33" ry="4.67" fill="none" stroke="#666" stroke-width="0.6"/>
<ellipse cx="247.0" cy="140.5" rx="3.47" ry="3.73" fill="none" stroke="#666" stroke-width="0.6"/>
<ellipse cx="247.0" cy="140.5" rx="2.60" ry="2.80" fill="none" stroke="#666" stroke-width="0.6"/>
<line x1="253.50" y1="137.40" x2="261.50" y2="137.40" stroke="#aaa" stroke-width="0.5"/>
<line x1="253.50" y1="143.20" x2="261.50" y2="143.20" stroke="#aaa" stroke-width="0.5"/>
<path d="M261.20,140.50 C261.20,139.17 262.70,137.40 265.00,136.50 C267.30,135.60 271.17,135.27 275.00,135.10 C278.83,134.93 283.83,135.10 288.00,135.50 C292.17,135.90 296.88,136.67 300.00,137.50 C303.12,138.33 306.70,139.58 306.70,140.50 C306.70,141.42 303.12,142.17 300.00,143.00 C296.88,143.83 292.17,144.97 288.00,145.50 C283.83,146.03 278.83,146.37 275.00,146.20 C271.17,146.03 267.30,145.45 265.00,144.50 C262.70,143.55 261.20,141.83 261.20,140.50 Z" fill="none" stroke="#969696" stroke-width="0.5"/>
<path d="M265.76,140.50 C265.76,139.39 267.00,137.93 268.91,137.18 C270.82,136.43 274.03,136.16 277.21,136.02 C280.39,135.88 284.54,136.02 288.00,136.35 C291.46,136.68 295.37,137.32 297.96,138.01 C300.55,138.70 303.52,139.74 303.52,140.50 C303.52,141.26 300.55,141.88 297.96,142.57 C295.37,143.27 291.46,144.21 288.00,144.65 C284.54,145.09 280.39,145.37 277.21,145.23 C274.03,145.09 270.82,144.61 268.91,143.82 C267.00,143.03 265.76,141.61 265.76,140.50 Z" fill="none" stroke="#888888" stroke-width="0.5"/>
<path d="M270.31,140.50 C270.31,139.62 271.30,138.45 272.82,137.86 C274.34,137.27 276.89,137.05 279.42,136.94 C281.95,136.83 285.25,136.94 288.00,137.20 C290.75,137.46 293.86,137.97 295.92,138.52 C297.98,139.07 300.34,139.90 300.34,140.50 C300.34,141.10 297.98,141.60 295.92,142.15 C293.86,142.70 290.75,143.45 288.00,143.80 C285.25,144.15 281.95,144.37 279.42,144.26 C276.89,144.15 274.34,143.77 272.82,143.14 C271.30,142.51 270.31,141.38 270.31,140.50 Z" fill="none" stroke="#7a7a7a" stroke-width="0.5"/>
<path d="M274.87,140.50 C274.87,139.85 275.60,138.98 276.73,138.54 C277.86,138.10 279.75,137.94 281.63,137.85 C283.51,137.77 285.96,137.85 288.00,138.05 C290.04,138.25 292.35,138.62 293.88,139.03 C295.41,139.44 297.16,140.05 297.16,140.50 C297.16,140.95 295.41,141.32 293.88,141.72 C292.35,142.13 290.04,142.69 288.00,142.95 C285.96,143.21 283.51,143.37 281.63,143.29 C279.75,143.21 277.86,142.93 276.73,142.46 C275.60,141.99 274.87,141.15 274.87,140.50 Z" fill="none" stroke="#6c6c6c" stroke-width="0.5"/>
<path d="M279.42,140.50 C279.42,140.07 279.90,139.51 280.64,139.22 C281.38,138.93 282.61,138.83 283.84,138.77 C285.07,138.72 286.67,138.77 288.00,138.90 C289.33,139.03 290.84,139.27 291.84,139.54 C292.84,139.81 293.98,140.21 293.98,140.50 C293.98,140.79 292.84,141.03 291.84,141.30 C290.84,141.57 289.33,141.93 288.00,142.10 C286.67,142.27 285.07,142.38 283.84,142.32 C282.61,142.27 281.38,142.08 280.64,141.78 C279.90,141.48 279.42,140.93 279.42,140.50 Z" fill="none" stroke="#5e5e5e" stroke-width="0.5"/>
<path d="M283.98,140.50 C283.98,140.30 284.21,140.03 284.55,139.90 C284.89,139.77 285.48,139.72 286.05,139.69 C286.62,139.66 287.38,139.69 288.00,139.75 C288.62,139.81 289.33,139.93 289.80,140.05 C290.27,140.18 290.81,140.36 290.81,140.50 C290.81,140.64 290.27,140.75 289.80,140.88 C289.33,141.00 288.62,141.17 288.00,141.25 C287.38,141.33 286.62,141.38 286.05,141.35 C285.48,141.33 284.89,141.24 284.55,141.10 C284.21,140.96 283.98,140.70 283.98,140.50 Z" fill="none" stroke="#505050" stroke-width="0.5"/>
<line x1="266.00" y1="140.50" x2="304.00" y2="140.50" stroke="#fff" stroke-width="0.7"/>
<rect x="259.40" y="127.80" width="50.00" height="23.80" fill="none" stroke="#000" stroke-width="1.3"/>
<text x="285.00" y="162.00" font-size="8.2" text-anchor="middle" fill="#222" textLength="15.4" lengthAdjust="spacingAndGlyphs" >65%</text>
<text x="275.00" y="119.80" font-size="9.3" text-anchor="middle" fill="#d0233f" textLength="40.0" lengthAdjust="spacingAndGlyphs" >GC/JAK3</text>
<line x1="228.90" y1="195.30" x2="228.90" y2="173.05" stroke="#000" stroke-width="1.1"/>
<line x1="228.90" y1="144.55" x2="228.90" y2="128.70" stroke="#000" stroke-width="1.1"/>
<path d="M226.00,129.50 L228.90,123.70 L231.80,129.50 Z" fill="#000"/>
<text x="231.90" y="158.20" font-size="9.8" text-anchor="middle" fill="#111" textLength="22.900000000000002" lengthAdjust="spacingAndGlyphs" transform="rotate(-90 231.90 158.20)" >FCS-W</text>
<line x1="237.70" y1="202.20" x2="266.75" y2="202.20" stroke="#000" stroke-width="1.1"/>
<line x1="281.85" y1="202.20" x2="305.00" y2="202.20" stroke="#000" stroke-width="1.1"/>
<path d="M304.20,199.30 L310.00,202.20 L304.20,205.10 Z" fill="#000"/>
<text x="274.30" y="205.10" font-size="9.0" text-anchor="middle" fill="#111" textLength="11.5" lengthAdjust="spacingAndGlyphs" >IgG</text>
<rect x="423.50" y="21.90" width="73.00" height="73.60" fill="none" stroke="#b9b9b9" stroke-width="0.9"/>
<line x1="423.50" y1="95.50" x2="496.50" y2="95.50" stroke="#6a6a6a" stroke-width="0.9"/>
<line x1="423.50" y1="30.30" x2="425.10" y2="30.30" stroke="#777" stroke-width="0.8"/>
<line x1="423.50" y1="48.80" x2="425.10" y2="48.80" stroke="#777" stroke-width="0.8"/>
<line x1="423.50" y1="67.30" x2="425.10" y2="67.30" stroke="#777" stroke-width="0.8"/>
<line x1="423.50" y1="85.80" x2="425.10" y2="85.80" stroke="#777" stroke-width="0.8"/>
<line x1="425.50" y1="95.50" x2="425.50" y2="97.50" stroke="#888" stroke-width="0.6"/>
<line x1="430.69" y1="95.50" x2="430.69" y2="96.70" stroke="#888" stroke-width="0.6"/>
<line x1="433.73" y1="95.50" x2="433.73" y2="96.70" stroke="#888" stroke-width="0.6"/>
<line x1="435.89" y1="95.50" x2="435.89" y2="96.70" stroke="#888" stroke-width="0.6"/>
<line x1="437.56" y1="95.50" x2="437.56" y2="96.70" stroke="#888" stroke-width="0.6"/>
<line x1="438.92" y1="95.50" x2="438.92" y2="96.70" stroke="#888" stroke-width="0.6"/>
<line x1="440.08" y1="95.50" x2="440.08" y2="96.70" stroke="#888" stroke-width="0.6"/>
<line x1="441.08" y1="95.50" x2="441.08" y2="96.70" stroke="#888" stroke-width="0.6"/>
<line x1="441.96" y1="95.50" x2="441.96" y2="96.70" stroke="#888" stroke-width="0.6"/>
<line x1="442.75" y1="95.50" x2="442.75" y2="97.50" stroke="#888" stroke-width="0.6"/>
<line x1="447.94" y1="95.50" x2="447.94" y2="96.70" stroke="#888" stroke-width="0.6"/>
<line x1="450.98" y1="95.50" x2="450.98" y2="96.70" stroke="#888" stroke-width="0.6"/>
<line x1="453.14" y1="95.50" x2="453.14" y2="96.70" stroke="#888" stroke-width="0.6"/>
<line x1="454.81" y1="95.50" x2="454.81" y2="96.70" stroke="#888" stroke-width="0.6"/>
<line x1="456.17" y1="95.50" x2="456.17" y2="96.70" stroke="#888" stroke-width="0.6"/>
<line x1="457.33" y1="95.50" x2="457.33" y2="96.70" stroke="#888" stroke-width="0.6"/>
<line x1="458.33" y1="95.50" x2="458.33" y2="96.70" stroke="#888" stroke-width="0.6"/>
<line x1="459.21" y1="95.50" x2="459.21" y2="96.70" stroke="#888" stroke-width="0.6"/>
<line x1="460.00" y1="95.50" x2="460.00" y2="97.50" stroke="#888" stroke-width="0.6"/>
<line x1="465.19" y1="95.50" x2="465.19" y2="96.70" stroke="#888" stroke-width="0.6"/>
<line x1="468.23" y1="95.50" x2="468.23" y2="96.70" stroke="#888" stroke-width="0.6"/>
<line x1="470.39" y1="95.50" x2="470.39" y2="96.70" stroke="#888" stroke-width="0.6"/>
<line x1="472.06" y1="95.50" x2="472.06" y2="96.70" stroke="#888" stroke-width="0.6"/>
<line x1="473.42" y1="95.50" x2="473.42" y2="96.70" stroke="#888" stroke-width="0.6"/>
<line x1="474.58" y1="95.50" x2="474.58" y2="96.70" stroke="#888" stroke-width="0.6"/>
<line x1="475.58" y1="95.50" x2="475.58" y2="96.70" stroke="#888" stroke-width="0.6"/>
<line x1="476.46" y1="95.50" x2="476.46" y2="96.70" stroke="#888" stroke-width="0.6"/>
<line x1="477.25" y1="95.50" x2="477.25" y2="97.50" stroke="#888" stroke-width="0.6"/>
<line x1="482.44" y1="95.50" x2="482.44" y2="96.70" stroke="#888" stroke-width="0.6"/>
<line x1="485.48" y1="95.50" x2="485.48" y2="96.70" stroke="#888" stroke-width="0.6"/>
<line x1="487.64" y1="95.50" x2="487.64" y2="96.70" stroke="#888" stroke-width="0.6"/>
<line x1="489.31" y1="95.50" x2="489.31" y2="96.70" stroke="#888" stroke-width="0.6"/>
<line x1="490.67" y1="95.50" x2="490.67" y2="96.70" stroke="#888" stroke-width="0.6"/>
<line x1="491.83" y1="95.50" x2="491.83" y2="96.70" stroke="#888" stroke-width="0.6"/>
<line x1="492.83" y1="95.50" x2="492.83" y2="96.70" stroke="#888" stroke-width="0.6"/>
<line x1="493.71" y1="95.50" x2="493.71" y2="96.70" stroke="#888" stroke-width="0.6"/>
<path d="M433.2,38.4 L438,33.8 L438,43 Z" fill="none" stroke="#aaa" stroke-width="0.5"/>
<ellipse cx="436.8" cy="38.4" rx="1.50" ry="5.00" fill="none" stroke="#222" stroke-width="0.8"/>
<ellipse cx="436.8" cy="38.4" rx="1.12" ry="3.75" fill="none" stroke="#222" stroke-width="0.8"/>
<ellipse cx="436.8" cy="38.4" rx="0.75" ry="2.50" fill="none" stroke="#222" stroke-width="0.8"/>
<path d="M441.00,38.40 C441.42,37.40 442.17,35.33 444.00,34.50 C445.83,33.67 449.00,33.48 452.00,33.40 C455.00,33.32 458.83,33.65 462.00,34.00 C465.17,34.35 468.00,35.17 471.00,35.50 C474.00,35.83 476.93,35.48 480.00,36.00 C483.07,36.52 489.40,37.97 489.40,38.60 C489.40,39.23 483.07,39.48 480.00,39.80 C476.93,40.12 474.00,39.97 471.00,40.50 C468.00,41.03 465.17,42.28 462.00,43.00 C458.83,43.72 454.83,44.80 452.00,44.80 C449.17,44.80 446.75,43.72 445.00,43.00 C443.25,42.28 442.17,41.27 441.50,40.50 C440.83,39.73 440.58,39.40 441.00,38.40 Z" fill="none" stroke="#969696" stroke-width="0.5"/>
<path d="M443.89,38.43 C444.24,37.60 444.86,35.89 446.38,35.20 C447.90,34.51 450.53,34.35 453.02,34.28 C455.51,34.21 458.69,34.49 461.32,34.78 C463.95,35.07 466.30,35.75 468.79,36.03 C471.28,36.30 473.71,36.01 476.26,36.44 C478.81,36.87 484.06,38.07 484.06,38.60 C484.06,39.13 478.81,39.33 476.26,39.60 C473.71,39.86 471.28,39.73 468.79,40.18 C466.30,40.62 463.95,41.66 461.32,42.25 C458.69,42.85 455.37,43.75 453.02,43.75 C450.67,43.75 448.66,42.85 447.21,42.25 C445.76,41.66 444.86,40.81 444.31,40.18 C443.75,39.54 443.54,39.26 443.89,38.43 Z" fill="none" stroke="#888888" stroke-width="0.5"/>
<path d="M446.78,38.47 C447.05,37.81 447.55,36.44 448.76,35.89 C449.97,35.34 452.06,35.22 454.04,35.17 C456.02,35.11 458.55,35.33 460.64,35.56 C462.73,35.80 464.60,36.33 466.58,36.55 C468.56,36.77 470.50,36.54 472.52,36.88 C474.54,37.23 478.72,38.18 478.72,38.60 C478.72,39.02 474.54,39.18 472.52,39.39 C470.50,39.60 468.56,39.50 466.58,39.85 C464.60,40.21 462.73,41.03 460.64,41.50 C458.55,41.98 455.91,42.69 454.04,42.69 C452.17,42.69 450.58,41.98 449.42,41.50 C448.26,41.03 447.55,40.36 447.11,39.85 C446.67,39.35 446.50,39.13 446.78,38.47 Z" fill="none" stroke="#7a7a7a" stroke-width="0.5"/>
<path d="M449.67,38.50 C449.87,38.01 450.24,37.00 451.14,36.59 C452.04,36.18 453.59,36.09 455.06,36.05 C456.53,36.01 458.41,36.17 459.96,36.35 C461.51,36.52 462.90,36.92 464.37,37.08 C465.84,37.24 467.28,37.07 468.78,37.33 C470.28,37.58 473.39,38.29 473.39,38.60 C473.39,38.91 470.28,39.03 468.78,39.19 C467.28,39.34 465.84,39.27 464.37,39.53 C462.90,39.79 461.51,40.40 459.96,40.76 C458.41,41.11 456.45,41.64 455.06,41.64 C453.67,41.64 452.49,41.11 451.63,40.76 C450.77,40.40 450.24,39.91 449.92,39.53 C449.59,39.16 449.47,38.99 449.67,38.50 Z" fill="none" stroke="#6c6c6c" stroke-width="0.5"/>
<path d="M452.56,38.54 C452.69,38.22 452.93,37.55 453.52,37.29 C454.11,37.02 455.12,36.96 456.08,36.94 C457.04,36.91 458.27,37.02 459.28,37.13 C460.29,37.24 461.20,37.50 462.16,37.61 C463.12,37.71 464.06,37.60 465.04,37.77 C466.02,37.93 468.05,38.40 468.05,38.60 C468.05,38.80 466.02,38.88 465.04,38.98 C464.06,39.09 463.12,39.04 462.16,39.21 C461.20,39.38 460.29,39.78 459.28,40.01 C458.27,40.24 456.99,40.58 456.08,40.58 C455.17,40.58 454.40,40.24 453.84,40.01 C453.28,39.78 452.93,39.45 452.72,39.21 C452.51,38.96 452.43,38.86 452.56,38.54 Z" fill="none" stroke="#5e5e5e" stroke-width="0.5"/>
<path d="M455.45,38.57 C455.51,38.42 455.62,38.11 455.90,37.98 C456.17,37.86 456.65,37.83 457.10,37.82 C457.55,37.81 458.12,37.86 458.60,37.91 C459.08,37.96 459.50,38.09 459.95,38.13 C460.40,38.18 460.84,38.13 461.30,38.21 C461.76,38.29 462.71,38.51 462.71,38.60 C462.71,38.70 461.76,38.73 461.30,38.78 C460.84,38.83 460.40,38.80 459.95,38.88 C459.50,38.96 459.08,39.15 458.60,39.26 C458.12,39.37 457.53,39.53 457.10,39.53 C456.68,39.53 456.31,39.37 456.05,39.26 C455.79,39.15 455.62,39.00 455.52,38.88 C455.42,38.77 455.39,38.72 455.45,38.57 Z" fill="none" stroke="#505050" stroke-width="0.5"/>
<line x1="444.00" y1="38.40" x2="475.00" y2="38.40" stroke="#fff" stroke-width="0.7"/>
<rect x="441.30" y="27.00" width="50.50" height="24.20" fill="none" stroke="#000" stroke-width="1.3"/>
<text x="468.00" y="62.30" font-size="8.2" text-anchor="middle" fill="#222" textLength="15.4" lengthAdjust="spacingAndGlyphs" >86%</text>
<text x="460.40" y="18.10" font-size="9.3" text-anchor="middle" fill="#000" textLength="12.8" lengthAdjust="spacingAndGlyphs" >HC</text>
<line x1="415.50" y1="95.20" x2="415.50" y2="72.35" stroke="#000" stroke-width="1.1"/>
<line x1="415.50" y1="43.85" x2="415.50" y2="26.70" stroke="#000" stroke-width="1.1"/>
<path d="M412.60,27.50 L415.50,21.70 L418.40,27.50 Z" fill="#000"/>
<text x="418.50" y="57.50" font-size="9.8" text-anchor="middle" fill="#111" textLength="22.900000000000002" lengthAdjust="spacingAndGlyphs" transform="rotate(-90 418.50 57.50)" >FCS-W</text>
<line x1="423.80" y1="102.30" x2="455.35" y2="102.30" stroke="#000" stroke-width="1.1"/>
<line x1="470.45" y1="102.30" x2="492.00" y2="102.30" stroke="#000" stroke-width="1.1"/>
<path d="M491.20,99.40 L497.00,102.30 L491.20,105.20 Z" fill="#000"/>
<text x="462.90" y="105.20" font-size="9.0" text-anchor="middle" fill="#111" textLength="11.5" lengthAdjust="spacingAndGlyphs" >IgD</text>
<rect x="423.50" y="123.90" width="72.70" height="72.30" fill="none" stroke="#b9b9b9" stroke-width="0.9"/>
<line x1="423.50" y1="196.20" x2="496.20" y2="196.20" stroke="#6a6a6a" stroke-width="0.9"/>
<line x1="423.50" y1="132.30" x2="425.10" y2="132.30" stroke="#777" stroke-width="0.8"/>
<line x1="423.50" y1="150.80" x2="425.10" y2="150.80" stroke="#777" stroke-width="0.8"/>
<line x1="423.50" y1="169.30" x2="425.10" y2="169.30" stroke="#777" stroke-width="0.8"/>
<line x1="423.50" y1="187.80" x2="425.10" y2="187.80" stroke="#777" stroke-width="0.8"/>
<line x1="425.50" y1="196.20" x2="425.50" y2="198.20" stroke="#888" stroke-width="0.6"/>
<line x1="430.67" y1="196.20" x2="430.67" y2="197.40" stroke="#888" stroke-width="0.6"/>
<line x1="433.69" y1="196.20" x2="433.69" y2="197.40" stroke="#888" stroke-width="0.6"/>
<line x1="435.84" y1="196.20" x2="435.84" y2="197.40" stroke="#888" stroke-width="0.6"/>
<line x1="437.50" y1="196.20" x2="437.50" y2="197.40" stroke="#888" stroke-width="0.6"/>
<line x1="438.86" y1="196.20" x2="438.86" y2="197.40" stroke="#888" stroke-width="0.6"/>
<line x1="440.01" y1="196.20" x2="440.01" y2="197.40" stroke="#888" stroke-width="0.6"/>
<line x1="441.01" y1="196.20" x2="441.01" y2="197.40" stroke="#888" stroke-width="0.6"/>
<line x1="441.89" y1="196.20" x2="441.89" y2="197.40" stroke="#888" stroke-width="0.6"/>
<line x1="442.68" y1="196.20" x2="442.68" y2="198.20" stroke="#888" stroke-width="0.6"/>
<line x1="447.85" y1="196.20" x2="447.85" y2="197.40" stroke="#888" stroke-width="0.6"/>
<line x1="450.87" y1="196.20" x2="450.87" y2="197.40" stroke="#888" stroke-width="0.6"/>
<line x1="453.02" y1="196.20" x2="453.02" y2="197.40" stroke="#888" stroke-width="0.6"/>
<line x1="454.68" y1="196.20" x2="454.68" y2="197.40" stroke="#888" stroke-width="0.6"/>
<line x1="456.04" y1="196.20" x2="456.04" y2="197.40" stroke="#888" stroke-width="0.6"/>
<line x1="457.19" y1="196.20" x2="457.19" y2="197.40" stroke="#888" stroke-width="0.6"/>
<line x1="458.19" y1="196.20" x2="458.19" y2="197.40" stroke="#888" stroke-width="0.6"/>
<line x1="459.06" y1="196.20" x2="459.06" y2="197.40" stroke="#888" stroke-width="0.6"/>
<line x1="459.85" y1="196.20" x2="459.85" y2="198.20" stroke="#888" stroke-width="0.6"/>
<line x1="465.02" y1="196.20" x2="465.02" y2="197.40" stroke="#888" stroke-width="0.6"/>
<line x1="468.04" y1="196.20" x2="468.04" y2="197.40" stroke="#888" stroke-width="0.6"/>
<line x1="470.19" y1="196.20" x2="470.19" y2="197.40" stroke="#888" stroke-width="0.6"/>
<line x1="471.85" y1="196.20" x2="471.85" y2="197.40" stroke="#888" stroke-width="0.6"/>
<line x1="473.21" y1="196.20" x2="473.21" y2="197.40" stroke="#888" stroke-width="0.6"/>
<line x1="474.36" y1="196.20" x2="474.36" y2="197.40" stroke="#888" stroke-width="0.6"/>
<line x1="475.36" y1="196.20" x2="475.36" y2="197.40" stroke="#888" stroke-width="0.6"/>
<line x1="476.24" y1="196.20" x2="476.24" y2="197.40" stroke="#888" stroke-width="0.6"/>
<line x1="477.02" y1="196.20" x2="477.02" y2="198.20" stroke="#888" stroke-width="0.6"/>
<line x1="482.20" y1="196.20" x2="482.20" y2="197.40" stroke="#888" stroke-width="0.6"/>
<line x1="485.22" y1="196.20" x2="485.22" y2="197.40" stroke="#888" stroke-width="0.6"/>
<line x1="487.37" y1="196.20" x2="487.37" y2="197.40" stroke="#888" stroke-width="0.6"/>
<line x1="489.03" y1="196.20" x2="489.03" y2="197.40" stroke="#888" stroke-width="0.6"/>
<line x1="490.39" y1="196.20" x2="490.39" y2="197.40" stroke="#888" stroke-width="0.6"/>
<line x1="491.54" y1="196.20" x2="491.54" y2="197.40" stroke="#888" stroke-width="0.6"/>
<line x1="492.54" y1="196.20" x2="492.54" y2="197.40" stroke="#888" stroke-width="0.6"/>
<line x1="493.41" y1="196.20" x2="493.41" y2="197.40" stroke="#888" stroke-width="0.6"/>
<ellipse cx="452" cy="140.5" rx="23.2" ry="3.3" fill="none" stroke="#999" stroke-width="0.55"/>
<path d="M439.60,140.50 C439.60,139.17 441.27,137.08 443.00,136.00 C444.73,134.92 447.50,134.38 450.00,134.00 C452.50,133.62 455.50,133.45 458.00,133.70 C460.50,133.95 462.60,134.37 465.00,135.50 C467.40,136.63 471.90,139.17 472.40,140.50 C472.90,141.83 469.73,142.42 468.00,143.50 C466.27,144.58 463.88,146.03 462.00,147.00 C460.12,147.97 458.87,149.22 456.70,149.30 C454.53,149.38 451.28,148.38 449.00,147.50 C446.72,146.62 444.57,145.17 443.00,144.00 C441.43,142.83 439.60,141.83 439.60,140.50 Z" fill="none" stroke="#969696" stroke-width="0.5"/>
<path d="M442.39,140.50 C442.39,139.39 443.77,137.66 445.21,136.76 C446.65,135.87 448.94,135.42 451.02,135.10 C453.09,134.79 455.59,134.65 457.66,134.86 C459.74,135.06 461.48,135.41 463.47,136.35 C465.46,137.29 469.20,139.39 469.61,140.50 C470.03,141.61 467.40,142.09 465.96,142.99 C464.52,143.89 462.54,145.09 460.98,145.90 C459.42,146.70 458.38,147.73 456.58,147.80 C454.78,147.87 452.09,147.04 450.19,146.31 C448.29,145.58 446.51,144.37 445.21,143.41 C443.91,142.44 442.39,141.61 442.39,140.50 Z" fill="none" stroke="#888888" stroke-width="0.5"/>
<path d="M445.18,140.50 C445.18,139.62 446.28,138.25 447.42,137.53 C448.56,136.81 450.39,136.46 452.04,136.21 C453.69,135.96 455.67,135.85 457.32,136.01 C458.97,136.18 460.36,136.45 461.94,137.20 C463.52,137.95 466.49,139.62 466.82,140.50 C467.15,141.38 465.06,141.76 463.92,142.48 C462.78,143.19 461.20,144.15 459.96,144.79 C458.72,145.43 457.89,146.25 456.46,146.31 C455.03,146.36 452.89,145.70 451.38,145.12 C449.87,144.54 448.45,143.58 447.42,142.81 C446.39,142.04 445.18,141.38 445.18,140.50 Z" fill="none" stroke="#7a7a7a" stroke-width="0.5"/>
<path d="M447.96,140.50 C447.96,139.85 448.78,138.83 449.63,138.29 C450.48,137.76 451.83,137.50 453.06,137.31 C454.29,137.13 455.75,137.05 456.98,137.17 C458.21,137.29 459.23,137.49 460.41,138.05 C461.59,138.61 463.79,139.85 464.04,140.50 C464.28,141.15 462.73,141.44 461.88,141.97 C461.03,142.50 459.86,143.21 458.94,143.69 C458.02,144.16 457.40,144.77 456.34,144.81 C455.28,144.85 453.69,144.36 452.57,143.93 C451.45,143.50 450.40,142.79 449.63,142.22 C448.86,141.64 447.96,141.15 447.96,140.50 Z" fill="none" stroke="#6c6c6c" stroke-width="0.5"/>
<path d="M450.75,140.50 C450.75,140.07 451.29,139.41 451.84,139.06 C452.39,138.71 453.28,138.54 454.08,138.42 C454.88,138.30 455.84,138.24 456.64,138.32 C457.44,138.40 458.11,138.54 458.88,138.90 C459.65,139.26 461.09,140.07 461.25,140.50 C461.41,140.93 460.39,141.11 459.84,141.46 C459.29,141.81 458.52,142.27 457.92,142.58 C457.32,142.89 456.92,143.29 456.22,143.32 C455.53,143.34 454.49,143.02 453.76,142.74 C453.03,142.46 452.34,141.99 451.84,141.62 C451.34,141.25 450.75,140.93 450.75,140.50 Z" fill="none" stroke="#5e5e5e" stroke-width="0.5"/>
<path d="M453.54,140.50 C453.54,140.30 453.79,139.99 454.05,139.82 C454.31,139.66 454.73,139.58 455.10,139.53 C455.48,139.47 455.93,139.44 456.30,139.48 C456.68,139.52 456.99,139.58 457.35,139.75 C457.71,139.92 458.38,140.30 458.46,140.50 C458.53,140.70 458.06,140.79 457.80,140.95 C457.54,141.11 457.18,141.33 456.90,141.47 C456.62,141.62 456.43,141.81 456.11,141.82 C455.78,141.83 455.29,141.68 454.95,141.55 C454.61,141.42 454.29,141.20 454.05,141.03 C453.81,140.85 453.54,140.70 453.54,140.50 Z" fill="none" stroke="#505050" stroke-width="0.5"/>
<line x1="443.00" y1="140.50" x2="470.00" y2="140.50" stroke="#fff" stroke-width="0.7"/>
<rect x="439.30" y="129.00" width="50.60" height="23.80" fill="none" stroke="#000" stroke-width="1.3"/>
<text x="466.50" y="162.60" font-size="8.2" text-anchor="middle" fill="#222" textLength="15.4" lengthAdjust="spacingAndGlyphs" >81%</text>
<text x="460.50" y="120.00" font-size="9.3" text-anchor="middle" fill="#d0233f" textLength="40.0" lengthAdjust="spacingAndGlyphs" >GC/JAK3</text>
<line x1="415.50" y1="197.50" x2="415.50" y2="173.25" stroke="#000" stroke-width="1.1"/>
<line x1="415.50" y1="144.75" x2="415.50" y2="129.30" stroke="#000" stroke-width="1.1"/>
<path d="M412.60,130.10 L415.50,124.30 L418.40,130.10 Z" fill="#000"/>
<text x="418.50" y="158.40" font-size="9.8" text-anchor="middle" fill="#111" textLength="22.900000000000002" lengthAdjust="spacingAndGlyphs" transform="rotate(-90 418.50 158.40)" >FCS-W</text>
<line x1="423.80" y1="202.00" x2="454.25" y2="202.00" stroke="#000" stroke-width="1.1"/>
<line x1="469.35" y1="202.00" x2="492.00" y2="202.00" stroke="#000" stroke-width="1.1"/>
<path d="M491.20,199.10 L497.00,202.00 L491.20,204.90 Z" fill="#000"/>
<text x="461.80" y="204.90" font-size="9.0" text-anchor="middle" fill="#111" textLength="11.5" lengthAdjust="spacingAndGlyphs" >IgD</text>
<rect x="143.90" y="90.20" width="8.80" height="8.60" fill="#5c1a6c" stroke="none" stroke-width="1"/>
<text x="156.20" y="97.10" font-size="8.8" text-anchor="start" fill="#222" textLength="9.8" lengthAdjust="spacingAndGlyphs" >HC</text>
<rect x="143.90" y="101.75" width="8.80" height="8.60" fill="#3bb649" stroke="none" stroke-width="1"/>
<text x="156.20" y="108.65" font-size="8.8" text-anchor="start" fill="#222" textLength="35.8" lengthAdjust="spacingAndGlyphs" >SCID other</text>
<rect x="143.90" y="113.30" width="8.80" height="8.60" fill="#cf0f3b" stroke="none" stroke-width="1"/>
<text x="156.20" y="120.20" font-size="8.8" text-anchor="start" fill="#222" textLength="31.2" lengthAdjust="spacingAndGlyphs" >GC/JAK3</text>
<rect x="143.90" y="124.85" width="8.80" height="8.60" fill="#125593" stroke="none" stroke-width="1"/>
<text x="156.20" y="131.75" font-size="8.8" text-anchor="start" fill="#222" textLength="51.0" lengthAdjust="spacingAndGlyphs" >GC/JAK3+IgRT</text>
<line x1="39.60" y1="237.60" x2="39.60" y2="387.00" stroke="#000" stroke-width="1.3"/>
<line x1="35.80" y1="386.40" x2="39.60" y2="386.40" stroke="#000" stroke-width="1.0"/>
<text x="32.80" y="388.54" font-size="7.6" text-anchor="end" fill="#222" stroke="#222" stroke-width="0.12" >0</text>
<line x1="35.80" y1="374.32" x2="39.60" y2="374.32" stroke="#000" stroke-width="1.0"/>
<text x="32.80" y="376.46" font-size="7.6" text-anchor="end" fill="#222" stroke="#222" stroke-width="0.12" >10</text>
<line x1="35.80" y1="362.24" x2="39.60" y2="362.24" stroke="#000" stroke-width="1.0"/>
<text x="32.80" y="364.38" font-size="7.6" text-anchor="end" fill="#222" stroke="#222" stroke-width="0.12" >20</text>
<line x1="35.80" y1="350.16" x2="39.60" y2="350.16" stroke="#000" stroke-width="1.0"/>
<text x="32.80" y="352.30" font-size="7.6" text-anchor="end" fill="#222" stroke="#222" stroke-width="0.12" >30</text>
<line x1="35.80" y1="338.08" x2="39.60" y2="338.08" stroke="#000" stroke-width="1.0"/>
<text x="32.80" y="340.22" font-size="7.6" text-anchor="end" fill="#222" stroke="#222" stroke-width="0.12" >40</text>
<line x1="35.80" y1="326.00" x2="39.60" y2="326.00" stroke="#000" stroke-width="1.0"/>
<text x="32.80" y="328.14" font-size="7.6" text-anchor="end" fill="#222" stroke="#222" stroke-width="0.12" >50</text>
<line x1="35.80" y1="313.92" x2="39.60" y2="313.92" stroke="#000" stroke-width="1.0"/>
<text x="32.80" y="316.06" font-size="7.6" text-anchor="end" fill="#222" stroke="#222" stroke-width="0.12" >60</text>
<line x1="35.80" y1="301.84" x2="39.60" y2="301.84" stroke="#000" stroke-width="1.0"/>
<text x="32.80" y="303.98" font-size="7.6" text-anchor="end" fill="#222" stroke="#222" stroke-width="0.12" >70</text>
<line x1="35.80" y1="289.76" x2="39.60" y2="289.76" stroke="#000" stroke-width="1.0"/>
<text x="32.80" y="291.90" font-size="7.6" text-anchor="end" fill="#222" stroke="#222" stroke-width="0.12" >80</text>
<line x1="35.80" y1="277.68" x2="39.60" y2="277.68" stroke="#000" stroke-width="1.0"/>
<text x="32.80" y="279.82" font-size="7.6" text-anchor="end" fill="#222" stroke="#222" stroke-width="0.12" >90</text>
<line x1="35.80" y1="265.60" x2="39.60" y2="265.60" stroke="#000" stroke-width="1.0"/>
<text x="32.80" y="267.74" font-size="7.6" text-anchor="end" fill="#222" stroke="#222" stroke-width="0.12" >100</text>
<line x1="35.80" y1="253.52" x2="39.60" y2="253.52" stroke="#000" stroke-width="1.0"/>
<text x="32.80" y="255.66" font-size="7.6" text-anchor="end" fill="#222" stroke="#222" stroke-width="0.12" >110</text>
<line x1="35.80" y1="241.44" x2="39.60" y2="241.44" stroke="#000" stroke-width="1.0"/>
<text x="32.80" y="243.58" font-size="7.6" text-anchor="end" fill="#222" stroke="#222" stroke-width="0.12" >120</text>
<line x1="39.00" y1="386.40" x2="139.00" y2="386.40" stroke="#000" stroke-width="1.3"/>
<line x1="52.40" y1="386.40" x2="52.40" y2="389.60" stroke="#000" stroke-width="1.0"/>
<line x1="77.30" y1="386.40" x2="77.30" y2="389.60" stroke="#000" stroke-width="1.0"/>
<line x1="102.20" y1="386.40" x2="102.20" y2="389.60" stroke="#000" stroke-width="1.0"/>
<line x1="127.20" y1="386.40" x2="127.20" y2="389.60" stroke="#000" stroke-width="1.0"/>
<text x="53.90" y="396.30" font-size="8.6" text-anchor="end" fill="#222" textLength="11.0" lengthAdjust="spacingAndGlyphs" transform="rotate(-45 53.90 396.30)" >HC</text>
<text x="78.80" y="396.30" font-size="8.6" text-anchor="end" fill="#222" textLength="39.0" lengthAdjust="spacingAndGlyphs" transform="rotate(-45 78.80 396.30)" >SCID other</text>
<text x="103.70" y="396.30" font-size="8.6" text-anchor="end" fill="#222" textLength="31.3" lengthAdjust="spacingAndGlyphs" transform="rotate(-45 103.70 396.30)" >GC/JAK3</text>
<text x="128.70" y="396.30" font-size="8.6" text-anchor="end" fill="#222" textLength="52.7" lengthAdjust="spacingAndGlyphs" transform="rotate(-45 128.70 396.30)" >GC/JAK3+IgRT</text>
<text x="14.00" y="314.20" font-size="9.0" text-anchor="middle" fill="#222" stroke="#222" stroke-width="0.18" textLength="127" lengthAdjust="spacingAndGlyphs" transform="rotate(-90 14.00 314.20)" >% of IgA coated nasopharynx microbes</text>
<line x1="52.25" y1="280.60" x2="52.25" y2="284.80" stroke="#4a4a4a" stroke-width="1.2"/>
<line x1="48.78" y1="280.60" x2="55.72" y2="280.60" stroke="#222" stroke-width="1.0"/>
<line x1="52.25" y1="314.20" x2="52.25" y2="316.30" stroke="#4a4a4a" stroke-width="1.2"/>
<line x1="48.78" y1="316.30" x2="55.72" y2="316.30" stroke="#222" stroke-width="1.0"/>
<rect x="44.00" y="284.80" width="16.50" height="29.40" fill="#a88bb5" stroke="none" stroke-width="1"/>
<line x1="44.00" y1="298.30" x2="60.50" y2="298.30" stroke="#222" stroke-width="1.0"/>
<circle cx="46.60" cy="280.50" r="2.4" fill="#5c1a6c"/>
<circle cx="51.90" cy="282.50" r="2.4" fill="#5c1a6c"/>
<circle cx="57.50" cy="280.80" r="2.4" fill="#5c1a6c"/>
<circle cx="49.20" cy="291.40" r="2.4" fill="#5c1a6c"/>
<circle cx="57.50" cy="294.40" r="2.4" fill="#5c1a6c"/>
<circle cx="54.80" cy="296.90" r="2.4" fill="#5c1a6c"/>
<circle cx="49.20" cy="300.20" r="2.4" fill="#5c1a6c"/>
<circle cx="51.90" cy="309.40" r="2.4" fill="#5c1a6c"/>
<circle cx="45.80" cy="314.20" r="2.4" fill="#5c1a6c"/>
<circle cx="49.80" cy="316.50" r="2.4" fill="#5c1a6c"/>
<circle cx="53.80" cy="316.30" r="2.4" fill="#5c1a6c"/>
<circle cx="58.20" cy="313.30" r="2.4" fill="#5c1a6c"/>
<line x1="77.05" y1="268.20" x2="77.05" y2="273.30" stroke="#4a4a4a" stroke-width="1.2"/>
<line x1="73.58" y1="268.20" x2="80.52" y2="268.20" stroke="#222" stroke-width="1.0"/>
<line x1="77.05" y1="313.80" x2="77.05" y2="330.20" stroke="#4a4a4a" stroke-width="1.2"/>
<line x1="73.58" y1="330.20" x2="80.52" y2="330.20" stroke="#222" stroke-width="1.0"/>
<rect x="68.80" y="273.30" width="16.50" height="40.50" fill="#a2dba7" stroke="none" stroke-width="1"/>
<line x1="68.80" y1="285.40" x2="85.30" y2="285.40" stroke="#222" stroke-width="1.0"/>
<circle cx="74.40" cy="268.10" r="2.4" fill="#3bb649"/>
<circle cx="79.80" cy="269.50" r="2.4" fill="#3bb649"/>
<circle cx="79.80" cy="277.10" r="2.4" fill="#3bb649"/>
<circle cx="71.50" cy="281.60" r="2.4" fill="#3bb649"/>
<circle cx="74.40" cy="285.60" r="2.4" fill="#3bb649"/>
<circle cx="79.80" cy="290.20" r="2.4" fill="#3bb649"/>
<circle cx="77.10" cy="305.40" r="2.4" fill="#3bb649"/>
<circle cx="77.10" cy="322.50" r="2.4" fill="#3bb649"/>
<circle cx="77.10" cy="330.20" r="2.4" fill="#3bb649"/>
<line x1="102.20" y1="370.80" x2="102.20" y2="373.70" stroke="#4a4a4a" stroke-width="1.2"/>
<line x1="98.84" y1="370.80" x2="105.56" y2="370.80" stroke="#222" stroke-width="1.0"/>
<rect x="94.20" y="373.70" width="16.00" height="10.30" fill="#e48799" stroke="none" stroke-width="1"/>
<line x1="94.20" y1="378.80" x2="110.20" y2="378.80" stroke="#222" stroke-width="1.0"/>
<circle cx="101.50" cy="371.50" r="2.4" fill="#cf0f3b"/>
<circle cx="99.20" cy="374.00" r="2.4" fill="#cf0f3b"/>
<circle cx="106.30" cy="378.80" r="2.4" fill="#cf0f3b"/>
<circle cx="105.40" cy="382.30" r="2.4" fill="#cf0f3b"/>
<circle cx="99.60" cy="386.30" r="2.4" fill="#cf0f3b"/>
<line x1="127.20" y1="333.10" x2="127.20" y2="345.20" stroke="#4a4a4a" stroke-width="1.2"/>
<line x1="123.67" y1="333.10" x2="130.73" y2="333.10" stroke="#222" stroke-width="1.0"/>
<line x1="127.20" y1="354.80" x2="127.20" y2="368.30" stroke="#4a4a4a" stroke-width="1.2"/>
<line x1="123.67" y1="368.30" x2="130.73" y2="368.30" stroke="#222" stroke-width="1.0"/>
<rect x="118.80" y="345.20" width="16.80" height="9.60" fill="#8dabca" stroke="none" stroke-width="1"/>
<line x1="118.80" y1="348.00" x2="135.60" y2="348.00" stroke="#222" stroke-width="1.0"/>
<circle cx="127.10" cy="333.10" r="2.4" fill="#125593"/>
<circle cx="120.80" cy="348.10" r="2.4" fill="#125593"/>
<circle cx="124.60" cy="348.50" r="2.4" fill="#125593"/>
<circle cx="128.80" cy="350.40" r="2.4" fill="#125593"/>
<circle cx="133.30" cy="348.10" r="2.4" fill="#125593"/>
<circle cx="127.10" cy="368.30" r="2.4" fill="#125593"/>
<line x1="56.30" y1="242.90" x2="126.90" y2="242.90" stroke="#3c3c3c" stroke-width="1.15"/>
<text x="91.60" y="241.30" font-size="6.6" text-anchor="middle" fill="#333" font-style="italic">n.s.</text>
<line x1="56.30" y1="248.80" x2="101.20" y2="248.80" stroke="#3c3c3c" stroke-width="1.15"/>
<circle cx="77.33" cy="246.80" r="0.95" fill="#2a2a2a"/>
<circle cx="80.17" cy="246.80" r="0.95" fill="#2a2a2a"/>
<line x1="82.30" y1="255.40" x2="127.50" y2="255.40" stroke="#3c3c3c" stroke-width="1.15"/>
<circle cx="104.90" cy="253.40" r="0.95" fill="#2a2a2a"/>
<line x1="57.30" y1="261.30" x2="77.50" y2="261.30" stroke="#3c3c3c" stroke-width="1.15"/>
<text x="67.40" y="259.70" font-size="6.6" text-anchor="middle" fill="#333" font-style="italic">n.s.</text>
<line x1="81.30" y1="261.50" x2="101.50" y2="261.50" stroke="#3c3c3c" stroke-width="1.15"/>
<circle cx="88.55" cy="259.50" r="0.95" fill="#2a2a2a"/>
<circle cx="91.40" cy="259.50" r="0.95" fill="#2a2a2a"/>
<circle cx="94.25" cy="259.50" r="0.95" fill="#2a2a2a"/>
<line x1="228.20" y1="238.20" x2="228.20" y2="386.50" stroke="#000" stroke-width="1.3"/>
<line x1="224.40" y1="385.90" x2="228.20" y2="385.90" stroke="#000" stroke-width="1.0"/>
<text x="221.90" y="387.96" font-size="7.4" text-anchor="end" fill="#222" stroke="#222" stroke-width="0.12" >0</text>
<line x1="224.40" y1="371.53" x2="228.20" y2="371.53" stroke="#000" stroke-width="1.0"/>
<text x="221.90" y="373.59" font-size="7.4" text-anchor="end" fill="#222" stroke="#222" stroke-width="0.12" >10</text>
<line x1="224.40" y1="357.16" x2="228.20" y2="357.16" stroke="#000" stroke-width="1.0"/>
<text x="221.90" y="359.22" font-size="7.4" text-anchor="end" fill="#222" stroke="#222" stroke-width="0.12" >20</text>
<line x1="224.40" y1="342.79" x2="228.20" y2="342.79" stroke="#000" stroke-width="1.0"/>
<text x="221.90" y="344.85" font-size="7.4" text-anchor="end" fill="#222" stroke="#222" stroke-width="0.12" >30</text>
<line x1="224.40" y1="328.42" x2="228.20" y2="328.42" stroke="#000" stroke-width="1.0"/>
<text x="221.90" y="330.48" font-size="7.4" text-anchor="end" fill="#222" stroke="#222" stroke-width="0.12" >40</text>
<line x1="224.40" y1="314.05" x2="228.20" y2="314.05" stroke="#000" stroke-width="1.0"/>
<text x="221.90" y="316.11" font-size="7.4" text-anchor="end" fill="#222" stroke="#222" stroke-width="0.12" >50</text>
<line x1="224.40" y1="299.68" x2="228.20" y2="299.68" stroke="#000" stroke-width="1.0"/>
<text x="221.90" y="301.74" font-size="7.4" text-anchor="end" fill="#222" stroke="#222" stroke-width="0.12" >60</text>
<line x1="224.40" y1="285.31" x2="228.20" y2="285.31" stroke="#000" stroke-width="1.0"/>
<text x="221.90" y="287.37" font-size="7.4" text-anchor="end" fill="#222" stroke="#222" stroke-width="0.12" >70</text>
<line x1="224.40" y1="270.94" x2="228.20" y2="270.94" stroke="#000" stroke-width="1.0"/>
<text x="221.90" y="273.00" font-size="7.4" text-anchor="end" fill="#222" stroke="#222" stroke-width="0.12" >80</text>
<line x1="224.40" y1="256.57" x2="228.20" y2="256.57" stroke="#000" stroke-width="1.0"/>
<text x="221.90" y="258.63" font-size="7.4" text-anchor="end" fill="#222" stroke="#222" stroke-width="0.12" >90</text>
<line x1="224.40" y1="242.20" x2="228.20" y2="242.20" stroke="#000" stroke-width="1.0"/>
<text x="221.90" y="244.26" font-size="7.4" text-anchor="end" fill="#222" stroke="#222" stroke-width="0.12" >100</text>
<line x1="227.60" y1="385.90" x2="327.50" y2="385.90" stroke="#000" stroke-width="1.3"/>
<line x1="240.80" y1="385.90" x2="240.80" y2="389.10" stroke="#000" stroke-width="1.0"/>
<line x1="265.80" y1="385.90" x2="265.80" y2="389.10" stroke="#000" stroke-width="1.0"/>
<line x1="290.80" y1="385.90" x2="290.80" y2="389.10" stroke="#000" stroke-width="1.0"/>
<line x1="315.50" y1="385.90" x2="315.50" y2="389.10" stroke="#000" stroke-width="1.0"/>
<text x="242.30" y="396.30" font-size="8.6" text-anchor="end" fill="#222" textLength="11.0" lengthAdjust="spacingAndGlyphs" transform="rotate(-45 242.30 396.30)" >HC</text>
<text x="267.30" y="396.30" font-size="8.6" text-anchor="end" fill="#222" textLength="39.0" lengthAdjust="spacingAndGlyphs" transform="rotate(-45 267.30 396.30)" >SCID other</text>
<text x="292.30" y="396.30" font-size="8.6" text-anchor="end" fill="#222" textLength="31.3" lengthAdjust="spacingAndGlyphs" transform="rotate(-45 292.30 396.30)" >GC/JAK3</text>
<text x="317.00" y="396.30" font-size="8.6" text-anchor="end" fill="#222" textLength="52.7" lengthAdjust="spacingAndGlyphs" transform="rotate(-45 317.00 396.30)" >GC/JAK3+IgRT</text>
<text x="205.80" y="314.40" font-size="9.0" text-anchor="middle" fill="#222" stroke="#222" stroke-width="0.18" textLength="127.8" lengthAdjust="spacingAndGlyphs" transform="rotate(-90 205.80 314.40)" >% of IgG coated nasopharynx microbes</text>
<line x1="240.85" y1="271.00" x2="240.85" y2="276.00" stroke="#4a4a4a" stroke-width="1.2"/>
<line x1="237.43" y1="271.00" x2="244.27" y2="271.00" stroke="#222" stroke-width="1.0"/>
<line x1="240.85" y1="291.00" x2="240.85" y2="322.30" stroke="#4a4a4a" stroke-width="1.2"/>
<line x1="237.43" y1="322.30" x2="244.27" y2="322.30" stroke="#222" stroke-width="1.0"/>
<rect x="232.70" y="276.00" width="16.30" height="15.00" fill="#a88bb5" stroke="none" stroke-width="1"/>
<line x1="232.70" y1="281.30" x2="249.00" y2="281.30" stroke="#222" stroke-width="1.0"/>
<circle cx="240.80" cy="271.00" r="2.4" fill="#5c1a6c"/>
<circle cx="234.50" cy="275.00" r="2.4" fill="#5c1a6c"/>
<circle cx="247.20" cy="274.40" r="2.4" fill="#5c1a6c"/>
<circle cx="238.60" cy="277.90" r="2.4" fill="#5c1a6c"/>
<circle cx="242.90" cy="277.10" r="2.4" fill="#5c1a6c"/>
<circle cx="246.10" cy="280.50" r="2.4" fill="#5c1a6c"/>
<circle cx="235.40" cy="283.70" r="2.4" fill="#5c1a6c"/>
<circle cx="240.80" cy="283.70" r="2.4" fill="#5c1a6c"/>
<circle cx="237.90" cy="291.40" r="2.4" fill="#5c1a6c"/>
<circle cx="243.50" cy="291.40" r="2.4" fill="#5c1a6c"/>
<circle cx="240.80" cy="301.50" r="2.4" fill="#5c1a6c"/>
<circle cx="240.80" cy="322.30" r="2.4" fill="#5c1a6c"/>
<line x1="265.75" y1="268.30" x2="265.75" y2="290.20" stroke="#4a4a4a" stroke-width="1.2"/>
<line x1="262.29" y1="268.30" x2="269.21" y2="268.30" stroke="#222" stroke-width="1.0"/>
<line x1="265.75" y1="329.20" x2="265.75" y2="341.00" stroke="#4a4a4a" stroke-width="1.2"/>
<line x1="262.29" y1="341.00" x2="269.21" y2="341.00" stroke="#222" stroke-width="1.0"/>
<rect x="257.50" y="290.20" width="16.50" height="39.00" fill="#a2dba7" stroke="none" stroke-width="1"/>
<line x1="257.50" y1="312.50" x2="274.00" y2="312.50" stroke="#222" stroke-width="1.0"/>
<circle cx="265.60" cy="268.30" r="2.4" fill="#3bb649"/>
<circle cx="265.60" cy="287.10" r="2.4" fill="#3bb649"/>
<circle cx="265.60" cy="292.70" r="2.4" fill="#3bb649"/>
<circle cx="260.20" cy="311.00" r="2.4" fill="#3bb649"/>
<circle cx="265.80" cy="313.10" r="2.4" fill="#3bb649"/>
<circle cx="271.50" cy="311.90" r="2.4" fill="#3bb649"/>
<circle cx="263.10" cy="327.30" r="2.4" fill="#3bb649"/>
<circle cx="268.70" cy="331.30" r="2.4" fill="#3bb649"/>
<circle cx="265.80" cy="341.00" r="2.4" fill="#3bb649"/>
<line x1="290.60" y1="278.50" x2="290.60" y2="284.20" stroke="#4a4a4a" stroke-width="1.2"/>
<line x1="287.11" y1="278.50" x2="294.09" y2="278.50" stroke="#222" stroke-width="1.0"/>
<line x1="290.60" y1="301.50" x2="290.60" y2="305.70" stroke="#4a4a4a" stroke-width="1.2"/>
<line x1="287.11" y1="305.70" x2="294.09" y2="305.70" stroke="#222" stroke-width="1.0"/>
<rect x="282.30" y="284.20" width="16.60" height="17.30" fill="#e48799" stroke="none" stroke-width="1"/>
<line x1="282.30" y1="290.50" x2="298.90" y2="290.50" stroke="#222" stroke-width="1.0"/>
<circle cx="290.80" cy="278.50" r="2.4" fill="#cf0f3b"/>
<circle cx="288.20" cy="290.30" r="2.4" fill="#cf0f3b"/>
<circle cx="293.40" cy="290.00" r="2.4" fill="#cf0f3b"/>
<circle cx="290.80" cy="298.00" r="2.4" fill="#cf0f3b"/>
<circle cx="290.80" cy="305.70" r="2.4" fill="#cf0f3b"/>
<line x1="315.60" y1="263.50" x2="315.60" y2="271.10" stroke="#4a4a4a" stroke-width="1.2"/>
<line x1="312.16" y1="263.50" x2="319.04" y2="263.50" stroke="#222" stroke-width="1.0"/>
<rect x="307.40" y="271.10" width="16.40" height="25.10" fill="#8dabca" stroke="none" stroke-width="1"/>
<line x1="307.40" y1="295.80" x2="323.80" y2="295.80" stroke="#222" stroke-width="1.0"/>
<circle cx="315.70" cy="263.50" r="2.4" fill="#125593"/>
<circle cx="315.70" cy="273.50" r="2.4" fill="#125593"/>
<circle cx="309.20" cy="295.80" r="2.4" fill="#125593"/>
<circle cx="313.50" cy="298.00" r="2.4" fill="#125593"/>
<circle cx="317.70" cy="297.40" r="2.4" fill="#125593"/>
<circle cx="322.00" cy="295.40" r="2.4" fill="#125593"/>
<line x1="243.20" y1="249.40" x2="313.50" y2="249.40" stroke="#3c3c3c" stroke-width="1.15"/>
<text x="278.35" y="247.80" font-size="6.6" text-anchor="middle" fill="#333" font-style="italic">n.s.</text>
<line x1="243.20" y1="255.20" x2="288.10" y2="255.20" stroke="#3c3c3c" stroke-width="1.15"/>
<text x="265.65" y="253.60" font-size="6.6" text-anchor="middle" fill="#333" font-style="italic">n.s.</text>
<line x1="243.20" y1="262.20" x2="264.10" y2="262.20" stroke="#3c3c3c" stroke-width="1.15"/>
<text x="253.65" y="260.60" font-size="6.6" text-anchor="middle" fill="#333" font-style="italic">n.s.</text>
<line x1="267.70" y1="262.20" x2="288.10" y2="262.20" stroke="#3c3c3c" stroke-width="1.15"/>
<text x="277.90" y="260.60" font-size="6.6" text-anchor="middle" fill="#333" font-style="italic">n.s.</text>
<line x1="412.50" y1="236.60" x2="412.50" y2="387.00" stroke="#000" stroke-width="1.3"/>
<line x1="408.70" y1="386.40" x2="412.50" y2="386.40" stroke="#000" stroke-width="1.0"/>
<text x="406.70" y="388.07" font-size="6.3" text-anchor="end" fill="#222" stroke="#222" stroke-width="0.12" >0</text>
<line x1="408.70" y1="374.25" x2="412.50" y2="374.25" stroke="#000" stroke-width="1.0"/>
<text x="406.70" y="375.92" font-size="6.3" text-anchor="end" fill="#222" stroke="#222" stroke-width="0.12" >10</text>
<line x1="408.70" y1="362.10" x2="412.50" y2="362.10" stroke="#000" stroke-width="1.0"/>
<text x="406.70" y="363.77" font-size="6.3" text-anchor="end" fill="#222" stroke="#222" stroke-width="0.12" >20</text>
<line x1="408.70" y1="349.95" x2="412.50" y2="349.95" stroke="#000" stroke-width="1.0"/>
<text x="406.70" y="351.62" font-size="6.3" text-anchor="end" fill="#222" stroke="#222" stroke-width="0.12" >30</text>
<line x1="408.70" y1="337.80" x2="412.50" y2="337.80" stroke="#000" stroke-width="1.0"/>
<text x="406.70" y="339.47" font-size="6.3" text-anchor="end" fill="#222" stroke="#222" stroke-width="0.12" >40</text>
<line x1="408.70" y1="325.65" x2="412.50" y2="325.65" stroke="#000" stroke-width="1.0"/>
<text x="406.70" y="327.32" font-size="6.3" text-anchor="end" fill="#222" stroke="#222" stroke-width="0.12" >50</text>
<line x1="408.70" y1="313.50" x2="412.50" y2="313.50" stroke="#000" stroke-width="1.0"/>
<text x="406.70" y="315.17" font-size="6.3" text-anchor="end" fill="#222" stroke="#222" stroke-width="0.12" >60</text>
<line x1="408.70" y1="301.35" x2="412.50" y2="301.35" stroke="#000" stroke-width="1.0"/>
<text x="406.70" y="303.02" font-size="6.3" text-anchor="end" fill="#222" stroke="#222" stroke-width="0.12" >70</text>
<line x1="408.70" y1="289.20" x2="412.50" y2="289.20" stroke="#000" stroke-width="1.0"/>
<text x="406.70" y="290.87" font-size="6.3" text-anchor="end" fill="#222" stroke="#222" stroke-width="0.12" >80</text>
<line x1="408.70" y1="277.05" x2="412.50" y2="277.05" stroke="#000" stroke-width="1.0"/>
<text x="406.70" y="278.72" font-size="6.3" text-anchor="end" fill="#222" stroke="#222" stroke-width="0.12" >90</text>
<line x1="408.70" y1="264.90" x2="412.50" y2="264.90" stroke="#000" stroke-width="1.0"/>
<text x="406.70" y="266.57" font-size="6.3" text-anchor="end" fill="#222" stroke="#222" stroke-width="0.12" >100</text>
<line x1="408.70" y1="252.75" x2="412.50" y2="252.75" stroke="#000" stroke-width="1.0"/>
<text x="406.70" y="254.42" font-size="6.3" text-anchor="end" fill="#222" stroke="#222" stroke-width="0.12" >110</text>
<line x1="408.70" y1="240.60" x2="412.50" y2="240.60" stroke="#000" stroke-width="1.0"/>
<text x="406.70" y="242.27" font-size="6.3" text-anchor="end" fill="#222" stroke="#222" stroke-width="0.12" >120</text>
<line x1="411.90" y1="386.40" x2="512.60" y2="386.40" stroke="#000" stroke-width="1.3"/>
<line x1="425.20" y1="386.40" x2="425.20" y2="389.60" stroke="#000" stroke-width="1.0"/>
<line x1="449.80" y1="386.40" x2="449.80" y2="389.60" stroke="#000" stroke-width="1.0"/>
<line x1="475.00" y1="386.40" x2="475.00" y2="389.60" stroke="#000" stroke-width="1.0"/>
<line x1="499.90" y1="386.40" x2="499.90" y2="389.60" stroke="#000" stroke-width="1.0"/>
<text x="426.70" y="396.30" font-size="8.6" text-anchor="end" fill="#222" textLength="11.0" lengthAdjust="spacingAndGlyphs" transform="rotate(-45 426.70 396.30)" >HC</text>
<text x="451.30" y="396.30" font-size="8.6" text-anchor="end" fill="#222" textLength="39.0" lengthAdjust="spacingAndGlyphs" transform="rotate(-45 451.30 396.30)" >SCID other</text>
<text x="476.50" y="396.30" font-size="8.6" text-anchor="end" fill="#222" textLength="31.3" lengthAdjust="spacingAndGlyphs" transform="rotate(-45 476.50 396.30)" >GC/JAK3</text>
<text x="501.40" y="396.30" font-size="8.6" text-anchor="end" fill="#222" textLength="52.7" lengthAdjust="spacingAndGlyphs" transform="rotate(-45 501.40 396.30)" >GC/JAK3+IgRT</text>
<text x="394.90" y="313.50" font-size="9.0" text-anchor="middle" fill="#222" stroke="#222" stroke-width="0.18" textLength="128.5" lengthAdjust="spacingAndGlyphs" transform="rotate(-90 394.90 313.50)" >% of IgD coated nasopharynx microbes</text>
<line x1="425.00" y1="271.80" x2="425.00" y2="272.50" stroke="#4a4a4a" stroke-width="1.2"/>
<line x1="421.43" y1="271.80" x2="428.57" y2="271.80" stroke="#222" stroke-width="1.0"/>
<line x1="425.00" y1="288.00" x2="425.00" y2="290.80" stroke="#4a4a4a" stroke-width="1.2"/>
<line x1="421.43" y1="290.80" x2="428.57" y2="290.80" stroke="#222" stroke-width="1.0"/>
<rect x="416.50" y="272.50" width="17.00" height="15.50" fill="#a88bb5" stroke="none" stroke-width="1"/>
<line x1="416.50" y1="282.60" x2="433.50" y2="282.60" stroke="#222" stroke-width="1.0"/>
<circle cx="418.90" cy="271.80" r="2.4" fill="#5c1a6c"/>
<circle cx="427.40" cy="271.80" r="2.4" fill="#5c1a6c"/>
<circle cx="431.80" cy="271.80" r="2.4" fill="#5c1a6c"/>
<circle cx="423.10" cy="275.80" r="2.4" fill="#5c1a6c"/>
<circle cx="430.80" cy="279.50" r="2.4" fill="#5c1a6c"/>
<circle cx="416.90" cy="282.60" r="2.4" fill="#5c1a6c"/>
<circle cx="424.90" cy="283.10" r="2.4" fill="#5c1a6c"/>
<circle cx="419.70" cy="286.60" r="2.4" fill="#5c1a6c"/>
<circle cx="430.50" cy="286.60" r="2.4" fill="#5c1a6c"/>
<circle cx="422.30" cy="289.20" r="2.4" fill="#5c1a6c"/>
<circle cx="424.90" cy="290.80" r="2.4" fill="#5c1a6c"/>
<circle cx="427.70" cy="289.20" r="2.4" fill="#5c1a6c"/>
<line x1="450.20" y1="283.10" x2="450.20" y2="298.90" stroke="#4a4a4a" stroke-width="1.2"/>
<line x1="446.84" y1="283.10" x2="453.56" y2="283.10" stroke="#222" stroke-width="1.0"/>
<line x1="450.20" y1="348.70" x2="450.20" y2="353.60" stroke="#4a4a4a" stroke-width="1.2"/>
<line x1="446.84" y1="353.60" x2="453.56" y2="353.60" stroke="#222" stroke-width="1.0"/>
<rect x="442.20" y="298.90" width="16.00" height="49.80" fill="#a2dba7" stroke="none" stroke-width="1"/>
<line x1="442.20" y1="306.80" x2="458.20" y2="306.80" stroke="#222" stroke-width="1.0"/>
<circle cx="450.00" cy="283.10" r="2.4" fill="#3bb649"/>
<circle cx="447.70" cy="298.50" r="2.4" fill="#3bb649"/>
<circle cx="452.60" cy="298.00" r="2.4" fill="#3bb649"/>
<circle cx="450.00" cy="303.80" r="2.4" fill="#3bb649"/>
<circle cx="453.10" cy="306.20" r="2.4" fill="#3bb649"/>
<circle cx="447.00" cy="312.00" r="2.4" fill="#3bb649"/>
<circle cx="449.80" cy="344.80" r="2.4" fill="#3bb649"/>
<circle cx="447.00" cy="353.90" r="2.4" fill="#3bb649"/>
<circle cx="452.90" cy="353.30" r="2.4" fill="#3bb649"/>
<line x1="475.00" y1="267.40" x2="475.00" y2="270.30" stroke="#4a4a4a" stroke-width="1.2"/>
<line x1="471.60" y1="267.40" x2="478.40" y2="267.40" stroke="#222" stroke-width="1.0"/>
<line x1="475.00" y1="314.40" x2="475.00" y2="325.40" stroke="#4a4a4a" stroke-width="1.2"/>
<line x1="471.60" y1="325.40" x2="478.40" y2="325.40" stroke="#222" stroke-width="1.0"/>
<rect x="466.90" y="270.30" width="16.20" height="44.10" fill="#e48799" stroke="none" stroke-width="1"/>
<line x1="466.90" y1="270.50" x2="483.10" y2="270.50" stroke="#222" stroke-width="1.0"/>
<circle cx="469.20" cy="267.40" r="2.4" fill="#cf0f3b"/>
<circle cx="475.10" cy="270.30" r="2.4" fill="#cf0f3b"/>
<circle cx="480.30" cy="270.30" r="2.4" fill="#cf0f3b"/>
<circle cx="475.10" cy="303.50" r="2.4" fill="#cf0f3b"/>
<circle cx="475.00" cy="325.40" r="2.4" fill="#cf0f3b"/>
<line x1="499.75" y1="268.50" x2="499.75" y2="271.50" stroke="#4a4a4a" stroke-width="1.2"/>
<line x1="496.29" y1="268.50" x2="503.21" y2="268.50" stroke="#222" stroke-width="1.0"/>
<line x1="499.75" y1="288.50" x2="499.75" y2="328.60" stroke="#4a4a4a" stroke-width="1.2"/>
<line x1="496.29" y1="328.60" x2="503.21" y2="328.60" stroke="#222" stroke-width="1.0"/>
<rect x="491.50" y="271.50" width="16.50" height="17.00" fill="#8dabca" stroke="none" stroke-width="1"/>
<line x1="491.50" y1="272.50" x2="508.00" y2="272.50" stroke="#222" stroke-width="1.0"/>
<circle cx="499.70" cy="268.50" r="2.4" fill="#125593"/>
<circle cx="493.50" cy="271.20" r="2.4" fill="#125593"/>
<circle cx="506.20" cy="271.50" r="2.4" fill="#125593"/>
<circle cx="497.70" cy="274.60" r="2.4" fill="#125593"/>
<circle cx="501.80" cy="275.40" r="2.4" fill="#125593"/>
<circle cx="499.90" cy="328.60" r="2.4" fill="#125593"/>
<line x1="425.00" y1="242.30" x2="496.20" y2="242.30" stroke="#3c3c3c" stroke-width="1.15"/>
<text x="460.60" y="240.70" font-size="6.6" text-anchor="middle" fill="#333" font-style="italic">n.s.</text>
<line x1="425.00" y1="248.90" x2="470.30" y2="248.90" stroke="#3c3c3c" stroke-width="1.15"/>
<text x="447.65" y="247.30" font-size="6.6" text-anchor="middle" fill="#333" font-style="italic">n.s.</text>
<line x1="451.50" y1="255.40" x2="496.90" y2="255.40" stroke="#3c3c3c" stroke-width="1.15"/>
<circle cx="474.20" cy="253.40" r="0.95" fill="#2a2a2a"/>
<line x1="426.20" y1="261.80" x2="446.90" y2="261.80" stroke="#3c3c3c" stroke-width="1.15"/>
<circle cx="436.55" cy="259.80" r="0.95" fill="#2a2a2a"/>
<line x1="450.30" y1="262.00" x2="470.80" y2="262.00" stroke="#3c3c3c" stroke-width="1.15"/>
<text x="460.55" y="260.40" font-size="6.6" text-anchor="middle" fill="#333" font-style="italic">n.s.</text>
<line x1="39.50" y1="468.30" x2="39.50" y2="625.40" stroke="#000" stroke-width="1.3"/>
<line x1="35.70" y1="624.80" x2="39.50" y2="624.80" stroke="#000" stroke-width="1.0"/>
<text x="33.40" y="627.08" font-size="8.0" text-anchor="end" fill="#222" stroke="#222" stroke-width="0.12" >0</text>
<line x1="35.70" y1="609.52" x2="39.50" y2="609.52" stroke="#000" stroke-width="1.0"/>
<text x="33.40" y="611.80" font-size="8.0" text-anchor="end" fill="#222" stroke="#222" stroke-width="0.12" >10</text>
<line x1="35.70" y1="594.24" x2="39.50" y2="594.24" stroke="#000" stroke-width="1.0"/>
<text x="33.40" y="596.52" font-size="8.0" text-anchor="end" fill="#222" stroke="#222" stroke-width="0.12" >20</text>
<line x1="35.70" y1="578.96" x2="39.50" y2="578.96" stroke="#000" stroke-width="1.0"/>
<text x="33.40" y="581.24" font-size="8.0" text-anchor="end" fill="#222" stroke="#222" stroke-width="0.12" >30</text>
<line x1="35.70" y1="563.68" x2="39.50" y2="563.68" stroke="#000" stroke-width="1.0"/>
<text x="33.40" y="565.96" font-size="8.0" text-anchor="end" fill="#222" stroke="#222" stroke-width="0.12" >40</text>
<line x1="35.70" y1="548.40" x2="39.50" y2="548.40" stroke="#000" stroke-width="1.0"/>
<text x="33.40" y="550.68" font-size="8.0" text-anchor="end" fill="#222" stroke="#222" stroke-width="0.12" >50</text>
<line x1="35.70" y1="533.12" x2="39.50" y2="533.12" stroke="#000" stroke-width="1.0"/>
<text x="33.40" y="535.40" font-size="8.0" text-anchor="end" fill="#222" stroke="#222" stroke-width="0.12" >60</text>
<line x1="35.70" y1="517.84" x2="39.50" y2="517.84" stroke="#000" stroke-width="1.0"/>
<text x="33.40" y="520.12" font-size="8.0" text-anchor="end" fill="#222" stroke="#222" stroke-width="0.12" >70</text>
<line x1="35.70" y1="502.56" x2="39.50" y2="502.56" stroke="#000" stroke-width="1.0"/>
<text x="33.40" y="504.84" font-size="8.0" text-anchor="end" fill="#222" stroke="#222" stroke-width="0.12" >80</text>
<line x1="35.70" y1="487.28" x2="39.50" y2="487.28" stroke="#000" stroke-width="1.0"/>
<text x="33.40" y="489.56" font-size="8.0" text-anchor="end" fill="#222" stroke="#222" stroke-width="0.12" >90</text>
<line x1="35.70" y1="472.00" x2="39.50" y2="472.00" stroke="#000" stroke-width="1.0"/>
<text x="33.40" y="474.28" font-size="8.0" text-anchor="end" fill="#222" stroke="#222" stroke-width="0.12" >100</text>
<line x1="38.90" y1="624.80" x2="255.50" y2="624.80" stroke="#000" stroke-width="1.3"/>
<line x1="44.90" y1="624.80" x2="44.90" y2="628.00" stroke="#000" stroke-width="1.0"/>
<line x1="56.26" y1="624.80" x2="56.26" y2="628.00" stroke="#000" stroke-width="1.0"/>
<line x1="67.62" y1="624.80" x2="67.62" y2="628.00" stroke="#000" stroke-width="1.0"/>
<line x1="78.98" y1="624.80" x2="78.98" y2="628.00" stroke="#000" stroke-width="1.0"/>
<line x1="90.34" y1="624.80" x2="90.34" y2="628.00" stroke="#000" stroke-width="1.0"/>
<line x1="101.70" y1="624.80" x2="101.70" y2="628.00" stroke="#000" stroke-width="1.0"/>
<line x1="113.06" y1="624.80" x2="113.06" y2="628.00" stroke="#000" stroke-width="1.0"/>
<line x1="124.42" y1="624.80" x2="124.42" y2="628.00" stroke="#000" stroke-width="1.0"/>
<line x1="135.78" y1="624.80" x2="135.78" y2="628.00" stroke="#000" stroke-width="1.0"/>
<line x1="147.14" y1="624.80" x2="147.14" y2="628.00" stroke="#000" stroke-width="1.0"/>
<line x1="158.50" y1="624.80" x2="158.50" y2="628.00" stroke="#000" stroke-width="1.0"/>
<line x1="169.86" y1="624.80" x2="169.86" y2="628.00" stroke="#000" stroke-width="1.0"/>
<line x1="181.22" y1="624.80" x2="181.22" y2="628.00" stroke="#000" stroke-width="1.0"/>
<line x1="192.58" y1="624.80" x2="192.58" y2="628.00" stroke="#000" stroke-width="1.0"/>
<line x1="203.94" y1="624.80" x2="203.94" y2="628.00" stroke="#000" stroke-width="1.0"/>
<line x1="215.30" y1="624.80" x2="215.30" y2="628.00" stroke="#000" stroke-width="1.0"/>
<line x1="226.66" y1="624.80" x2="226.66" y2="628.00" stroke="#000" stroke-width="1.0"/>
<line x1="238.02" y1="624.80" x2="238.02" y2="628.00" stroke="#000" stroke-width="1.0"/>
<line x1="249.38" y1="624.80" x2="249.38" y2="628.00" stroke="#000" stroke-width="1.0"/>
<text x="16.10" y="548.70" font-size="9.0" text-anchor="middle" fill="#222" stroke="#222" stroke-width="0.18" textLength="114.5" lengthAdjust="spacingAndGlyphs" transform="rotate(-90 16.10 548.70)" >% of coated nasopharynx microbes</text>
<line x1="45.35" y1="587.10" x2="45.35" y2="593.20" stroke="#4a4a4a" stroke-width="1.2"/>
<line x1="43.90" y1="587.10" x2="46.80" y2="587.10" stroke="#222" stroke-width="1.0"/>
<line x1="45.35" y1="614.10" x2="45.35" y2="615.60" stroke="#4a4a4a" stroke-width="1.2"/>
<line x1="43.90" y1="615.60" x2="46.80" y2="615.60" stroke="#222" stroke-width="1.0"/>
<rect x="41.90" y="593.20" width="6.90" height="20.90" fill="#a88bb5" stroke="none" stroke-width="1"/>
<line x1="41.90" y1="610.20" x2="48.80" y2="610.20" stroke="#222" stroke-width="1.0"/>
<circle cx="45.20" cy="587.10" r="2.4" fill="#5c1a6c"/>
<circle cx="43.40" cy="594.50" r="2.4" fill="#5c1a6c"/>
<circle cx="47.30" cy="594.80" r="2.4" fill="#5c1a6c"/>
<circle cx="44.90" cy="598.60" r="2.4" fill="#5c1a6c"/>
<circle cx="44.20" cy="602.50" r="2.4" fill="#5c1a6c"/>
<circle cx="45.40" cy="605.60" r="2.4" fill="#5c1a6c"/>
<circle cx="43.40" cy="611.00" r="2.4" fill="#5c1a6c"/>
<circle cx="45.70" cy="611.80" r="2.4" fill="#5c1a6c"/>
<circle cx="47.30" cy="610.20" r="2.4" fill="#5c1a6c"/>
<circle cx="44.20" cy="614.10" r="2.4" fill="#5c1a6c"/>
<circle cx="44.90" cy="615.60" r="2.4" fill="#5c1a6c"/>
<line x1="56.70" y1="565.90" x2="56.70" y2="587.80" stroke="#4a4a4a" stroke-width="1.2"/>
<line x1="55.15" y1="565.90" x2="58.25" y2="565.90" stroke="#222" stroke-width="1.0"/>
<line x1="56.70" y1="612.50" x2="56.70" y2="623.30" stroke="#4a4a4a" stroke-width="1.2"/>
<line x1="55.15" y1="623.30" x2="58.25" y2="623.30" stroke="#222" stroke-width="1.0"/>
<rect x="53.00" y="587.80" width="7.40" height="24.70" fill="#a2dba7" stroke="none" stroke-width="1"/>
<line x1="53.00" y1="612.00" x2="60.40" y2="612.00" stroke="#222" stroke-width="1.0"/>
<circle cx="56.50" cy="565.90" r="2.4" fill="#3bb649"/>
<circle cx="55.00" cy="587.40" r="2.4" fill="#3bb649"/>
<circle cx="57.30" cy="589.40" r="2.4" fill="#3bb649"/>
<circle cx="54.20" cy="611.80" r="2.4" fill="#3bb649"/>
<circle cx="56.50" cy="614.10" r="2.4" fill="#3bb649"/>
<circle cx="58.80" cy="614.10" r="2.4" fill="#3bb649"/>
<circle cx="57.30" cy="616.80" r="2.4" fill="#3bb649"/>
<circle cx="56.50" cy="623.30" r="2.4" fill="#3bb649"/>
<line x1="67.90" y1="559.80" x2="67.90" y2="564.20" stroke="#4a4a4a" stroke-width="1.2"/>
<line x1="66.35" y1="559.80" x2="69.45" y2="559.80" stroke="#222" stroke-width="1.0"/>
<line x1="67.90" y1="581.70" x2="67.90" y2="587.10" stroke="#4a4a4a" stroke-width="1.2"/>
<line x1="66.35" y1="587.10" x2="69.45" y2="587.10" stroke="#222" stroke-width="1.0"/>
<rect x="64.20" y="564.20" width="7.40" height="17.50" fill="#e48799" stroke="none" stroke-width="1"/>
<line x1="64.20" y1="575.50" x2="71.60" y2="575.50" stroke="#222" stroke-width="1.0"/>
<circle cx="68.10" cy="559.80" r="2.4" fill="#cf0f3b"/>
<circle cx="68.10" cy="568.60" r="2.4" fill="#cf0f3b"/>
<circle cx="65.80" cy="575.50" r="2.4" fill="#cf0f3b"/>
<circle cx="69.90" cy="577.00" r="2.4" fill="#cf0f3b"/>
<circle cx="68.10" cy="587.10" r="2.4" fill="#cf0f3b"/>
<line x1="79.25" y1="568.60" x2="79.25" y2="569.30" stroke="#4a4a4a" stroke-width="1.2"/>
<line x1="77.67" y1="568.60" x2="80.83" y2="568.60" stroke="#222" stroke-width="1.0"/>
<line x1="79.25" y1="597.60" x2="79.25" y2="608.40" stroke="#4a4a4a" stroke-width="1.2"/>
<line x1="77.67" y1="608.40" x2="80.83" y2="608.40" stroke="#222" stroke-width="1.0"/>
<rect x="75.50" y="569.30" width="7.50" height="28.30" fill="#8dabca" stroke="none" stroke-width="1"/>
<line x1="75.50" y1="570.00" x2="83.00" y2="570.00" stroke="#222" stroke-width="1.0"/>
<circle cx="77.30" cy="569.30" r="2.4" fill="#125593"/>
<circle cx="82.00" cy="568.60" r="2.4" fill="#125593"/>
<circle cx="79.60" cy="570.40" r="2.4" fill="#125593"/>
<circle cx="78.90" cy="594.80" r="2.4" fill="#125593"/>
<circle cx="78.90" cy="608.40" r="2.4" fill="#125593"/>
<line x1="46.50" y1="543.60" x2="76.60" y2="543.60" stroke="#3c3c3c" stroke-width="1.15"/>
<text x="61.55" y="542.00" font-size="6.6" text-anchor="middle" fill="#333" font-style="italic">n.s.</text>
<line x1="46.50" y1="548.50" x2="65.50" y2="548.50" stroke="#3c3c3c" stroke-width="1.15"/>
<circle cx="56.00" cy="546.50" r="0.95" fill="#2a2a2a"/>
<line x1="53.40" y1="554.20" x2="65.50" y2="554.20" stroke="#3c3c3c" stroke-width="1.15"/>
<circle cx="59.45" cy="552.20" r="0.95" fill="#2a2a2a"/>
<line x1="101.85" y1="586.60" x2="101.85" y2="593.10" stroke="#4a4a4a" stroke-width="1.2"/>
<line x1="100.23" y1="586.60" x2="103.47" y2="586.60" stroke="#222" stroke-width="1.0"/>
<line x1="101.85" y1="611.50" x2="101.85" y2="613.80" stroke="#4a4a4a" stroke-width="1.2"/>
<line x1="100.23" y1="613.80" x2="103.47" y2="613.80" stroke="#222" stroke-width="1.0"/>
<rect x="98.00" y="593.10" width="7.70" height="18.40" fill="#a88bb5" stroke="none" stroke-width="1"/>
<line x1="98.00" y1="608.00" x2="105.70" y2="608.00" stroke="#222" stroke-width="1.0"/>
<circle cx="101.50" cy="586.60" r="2.4" fill="#5c1a6c"/>
<circle cx="99.20" cy="593.50" r="2.4" fill="#5c1a6c"/>
<circle cx="104.30" cy="594.20" r="2.4" fill="#5c1a6c"/>
<circle cx="101.10" cy="602.30" r="2.4" fill="#5c1a6c"/>
<circle cx="102.70" cy="608.10" r="2.4" fill="#5c1a6c"/>
<circle cx="99.20" cy="611.50" r="2.4" fill="#5c1a6c"/>
<circle cx="101.10" cy="613.80" r="2.4" fill="#5c1a6c"/>
<circle cx="102.70" cy="611.50" r="2.4" fill="#5c1a6c"/>
<circle cx="104.30" cy="610.40" r="2.4" fill="#5c1a6c"/>
<line x1="113.30" y1="521.50" x2="113.30" y2="542.30" stroke="#4a4a4a" stroke-width="1.2"/>
<line x1="111.75" y1="521.50" x2="114.85" y2="521.50" stroke="#222" stroke-width="1.0"/>
<line x1="113.30" y1="610.40" x2="113.30" y2="612.70" stroke="#4a4a4a" stroke-width="1.2"/>
<line x1="111.75" y1="612.70" x2="114.85" y2="612.70" stroke="#222" stroke-width="1.0"/>
<rect x="109.60" y="542.30" width="7.40" height="68.10" fill="#a2dba7" stroke="none" stroke-width="1"/>
<line x1="109.60" y1="570.50" x2="117.00" y2="570.50" stroke="#222" stroke-width="1.0"/>
<circle cx="113.10" cy="521.50" r="2.4" fill="#3bb649"/>
<circle cx="115.40" cy="541.20" r="2.4" fill="#3bb649"/>
<circle cx="111.50" cy="545.80" r="2.4" fill="#3bb649"/>
<circle cx="113.10" cy="560.80" r="2.4" fill="#3bb649"/>
<circle cx="113.10" cy="570.50" r="2.4" fill="#3bb649"/>
<circle cx="113.10" cy="586.60" r="2.4" fill="#3bb649"/>
<circle cx="111.90" cy="609.20" r="2.4" fill="#3bb649"/>
<circle cx="113.10" cy="612.70" r="2.4" fill="#3bb649"/>
<rect x="121.00" y="621.00" width="7.20" height="3.50" fill="#e48799" stroke="none" stroke-width="1"/>
<circle cx="122.60" cy="622.30" r="2.4" fill="#cf0f3b"/>
<circle cx="126.40" cy="622.30" r="2.4" fill="#cf0f3b"/>
<circle cx="124.50" cy="624.20" r="2.4" fill="#cf0f3b"/>
<rect x="132.30" y="619.50" width="7.30" height="3.70" fill="#8dabca" stroke="none" stroke-width="1"/>
<circle cx="132.90" cy="621.80" r="2.4" fill="#125593"/>
<circle cx="135.40" cy="621.40" r="2.4" fill="#125593"/>
<circle cx="138.00" cy="618.80" r="2.4" fill="#125593"/>
<circle cx="135.50" cy="623.00" r="2.4" fill="#125593"/>
<line x1="102.70" y1="500.30" x2="132.20" y2="500.30" stroke="#3c3c3c" stroke-width="1.15"/>
<text x="117.45" y="498.70" font-size="6.6" text-anchor="middle" fill="#333" font-style="italic">n.s.</text>
<line x1="102.70" y1="504.90" x2="121.60" y2="504.90" stroke="#3c3c3c" stroke-width="1.15"/>
<circle cx="112.15" cy="502.90" r="0.95" fill="#2a2a2a"/>
<line x1="111.90" y1="511.20" x2="134.30" y2="511.20" stroke="#3c3c3c" stroke-width="1.15"/>
<circle cx="121.68" cy="509.20" r="0.95" fill="#2a2a2a"/>
<circle cx="124.53" cy="509.20" r="0.95" fill="#2a2a2a"/>
<line x1="111.90" y1="515.80" x2="123.50" y2="515.80" stroke="#3c3c3c" stroke-width="1.15"/>
<circle cx="114.85" cy="513.80" r="0.95" fill="#2a2a2a"/>
<circle cx="117.70" cy="513.80" r="0.95" fill="#2a2a2a"/>
<circle cx="120.55" cy="513.80" r="0.95" fill="#2a2a2a"/>
<line x1="158.80" y1="519.20" x2="158.80" y2="522.70" stroke="#4a4a4a" stroke-width="1.2"/>
<line x1="157.20" y1="519.20" x2="160.40" y2="519.20" stroke="#222" stroke-width="1.0"/>
<line x1="158.80" y1="560.80" x2="158.80" y2="578.50" stroke="#4a4a4a" stroke-width="1.2"/>
<line x1="157.20" y1="578.50" x2="160.40" y2="578.50" stroke="#222" stroke-width="1.0"/>
<rect x="155.00" y="522.70" width="7.60" height="38.10" fill="#a88bb5" stroke="none" stroke-width="1"/>
<line x1="155.00" y1="535.40" x2="162.60" y2="535.40" stroke="#222" stroke-width="1.0"/>
<circle cx="156.60" cy="521.10" r="2.4" fill="#5c1a6c"/>
<circle cx="160.30" cy="519.20" r="2.4" fill="#5c1a6c"/>
<circle cx="158.50" cy="525.00" r="2.4" fill="#5c1a6c"/>
<circle cx="157.30" cy="528.50" r="2.4" fill="#5c1a6c"/>
<circle cx="156.80" cy="535.80" r="2.4" fill="#5c1a6c"/>
<circle cx="159.60" cy="536.50" r="2.4" fill="#5c1a6c"/>
<circle cx="158.50" cy="540.50" r="2.4" fill="#5c1a6c"/>
<circle cx="156.60" cy="558.50" r="2.4" fill="#5c1a6c"/>
<circle cx="160.30" cy="562.60" r="2.4" fill="#5c1a6c"/>
<circle cx="160.30" cy="574.60" r="2.4" fill="#5c1a6c"/>
<circle cx="156.60" cy="578.50" r="2.4" fill="#5c1a6c"/>
<line x1="170.15" y1="534.70" x2="170.15" y2="556.20" stroke="#4a4a4a" stroke-width="1.2"/>
<line x1="168.45" y1="534.70" x2="171.85" y2="534.70" stroke="#222" stroke-width="1.0"/>
<line x1="170.15" y1="572.30" x2="170.15" y2="580.40" stroke="#4a4a4a" stroke-width="1.2"/>
<line x1="168.45" y1="580.40" x2="171.85" y2="580.40" stroke="#222" stroke-width="1.0"/>
<rect x="166.10" y="556.20" width="8.10" height="16.10" fill="#a2dba7" stroke="none" stroke-width="1"/>
<line x1="166.10" y1="561.20" x2="174.20" y2="561.20" stroke="#222" stroke-width="1.0"/>
<circle cx="169.50" cy="534.70" r="2.4" fill="#3bb649"/>
<circle cx="169.50" cy="555.00" r="2.4" fill="#3bb649"/>
<circle cx="168.20" cy="558.50" r="2.4" fill="#3bb649"/>
<circle cx="170.70" cy="559.60" r="2.4" fill="#3bb649"/>
<circle cx="167.70" cy="567.70" r="2.4" fill="#3bb649"/>
<circle cx="171.80" cy="568.90" r="2.4" fill="#3bb649"/>
<circle cx="172.30" cy="575.80" r="2.4" fill="#3bb649"/>
<circle cx="168.20" cy="580.40" r="2.4" fill="#3bb649"/>
<line x1="181.30" y1="608.50" x2="181.30" y2="611.50" stroke="#4a4a4a" stroke-width="1.2"/>
<line x1="179.75" y1="608.50" x2="182.85" y2="608.50" stroke="#222" stroke-width="1.0"/>
<rect x="177.60" y="611.50" width="7.40" height="11.60" fill="#e48799" stroke="none" stroke-width="1"/>
<line x1="177.60" y1="616.00" x2="185.00" y2="616.00" stroke="#222" stroke-width="1.0"/>
<circle cx="181.50" cy="608.50" r="2.4" fill="#cf0f3b"/>
<circle cx="179.70" cy="612.20" r="2.4" fill="#cf0f3b"/>
<circle cx="182.70" cy="615.00" r="2.4" fill="#cf0f3b"/>
<circle cx="183.40" cy="620.80" r="2.4" fill="#cf0f3b"/>
<circle cx="179.70" cy="624.70" r="2.4" fill="#cf0f3b"/>
<line x1="192.95" y1="562.60" x2="192.95" y2="575.10" stroke="#4a4a4a" stroke-width="1.2"/>
<line x1="191.25" y1="562.60" x2="194.65" y2="562.60" stroke="#222" stroke-width="1.0"/>
<line x1="192.95" y1="588.00" x2="192.95" y2="604.20" stroke="#4a4a4a" stroke-width="1.2"/>
<line x1="191.25" y1="604.20" x2="194.65" y2="604.20" stroke="#222" stroke-width="1.0"/>
<rect x="188.90" y="575.10" width="8.10" height="12.90" fill="#8dabca" stroke="none" stroke-width="1"/>
<line x1="188.90" y1="579.50" x2="197.00" y2="579.50" stroke="#222" stroke-width="1.0"/>
<circle cx="192.60" cy="562.60" r="2.4" fill="#125593"/>
<circle cx="190.30" cy="578.80" r="2.4" fill="#125593"/>
<circle cx="193.10" cy="579.20" r="2.4" fill="#125593"/>
<circle cx="195.40" cy="579.20" r="2.4" fill="#125593"/>
<circle cx="192.60" cy="581.50" r="2.4" fill="#125593"/>
<circle cx="192.60" cy="604.20" r="2.4" fill="#125593"/>
<line x1="158.90" y1="510.00" x2="188.50" y2="510.00" stroke="#3c3c3c" stroke-width="1.15"/>
<circle cx="173.70" cy="508.00" r="0.95" fill="#2a2a2a"/>
<line x1="158.90" y1="515.10" x2="178.10" y2="515.10" stroke="#3c3c3c" stroke-width="1.15"/>
<circle cx="165.65" cy="513.10" r="0.95" fill="#2a2a2a"/>
<circle cx="168.50" cy="513.10" r="0.95" fill="#2a2a2a"/>
<circle cx="171.35" cy="513.10" r="0.95" fill="#2a2a2a"/>
<line x1="169.30" y1="523.40" x2="191.90" y2="523.40" stroke="#3c3c3c" stroke-width="1.15"/>
<text x="180.60" y="521.80" font-size="6.6" text-anchor="middle" fill="#333" font-style="italic">n.s.</text>
<line x1="169.30" y1="529.20" x2="181.10" y2="529.20" stroke="#3c3c3c" stroke-width="1.15"/>
<circle cx="175.20" cy="527.20" r="0.95" fill="#2a2a2a"/>
<line x1="215.35" y1="591.10" x2="215.35" y2="594.50" stroke="#4a4a4a" stroke-width="1.2"/>
<line x1="213.86" y1="591.10" x2="216.84" y2="591.10" stroke="#222" stroke-width="1.0"/>
<line x1="215.35" y1="603.70" x2="215.35" y2="610.80" stroke="#4a4a4a" stroke-width="1.2"/>
<line x1="213.86" y1="610.80" x2="216.84" y2="610.80" stroke="#222" stroke-width="1.0"/>
<rect x="211.80" y="594.50" width="7.10" height="9.20" fill="#a88bb5" stroke="none" stroke-width="1"/>
<line x1="211.80" y1="598.50" x2="218.90" y2="598.50" stroke="#222" stroke-width="1.0"/>
<circle cx="215.20" cy="591.10" r="2.4" fill="#5c1a6c"/>
<circle cx="213.10" cy="594.50" r="2.4" fill="#5c1a6c"/>
<circle cx="217.00" cy="595.30" r="2.4" fill="#5c1a6c"/>
<circle cx="214.40" cy="598.50" r="2.4" fill="#5c1a6c"/>
<circle cx="217.00" cy="599.80" r="2.4" fill="#5c1a6c"/>
<circle cx="214.40" cy="602.40" r="2.4" fill="#5c1a6c"/>
<circle cx="215.70" cy="610.80" r="2.4" fill="#5c1a6c"/>
<line x1="226.65" y1="591.10" x2="226.65" y2="605.00" stroke="#4a4a4a" stroke-width="1.2"/>
<line x1="225.16" y1="591.10" x2="228.14" y2="591.10" stroke="#222" stroke-width="1.0"/>
<line x1="226.65" y1="616.80" x2="226.65" y2="621.50" stroke="#4a4a4a" stroke-width="1.2"/>
<line x1="225.16" y1="621.50" x2="228.14" y2="621.50" stroke="#222" stroke-width="1.0"/>
<rect x="223.10" y="605.00" width="7.10" height="11.80" fill="#a2dba7" stroke="none" stroke-width="1"/>
<line x1="223.10" y1="609.00" x2="230.20" y2="609.00" stroke="#222" stroke-width="1.0"/>
<circle cx="226.20" cy="591.10" r="2.4" fill="#3bb649"/>
<circle cx="226.20" cy="602.40" r="2.4" fill="#3bb649"/>
<circle cx="224.90" cy="606.90" r="2.4" fill="#3bb649"/>
<circle cx="227.50" cy="609.00" r="2.4" fill="#3bb649"/>
<circle cx="226.20" cy="612.90" r="2.4" fill="#3bb649"/>
<circle cx="224.90" cy="616.80" r="2.4" fill="#3bb649"/>
<circle cx="227.50" cy="621.50" r="2.4" fill="#3bb649"/>
<line x1="238.30" y1="510.60" x2="238.30" y2="521.10" stroke="#4a4a4a" stroke-width="1.2"/>
<line x1="236.75" y1="510.60" x2="239.85" y2="510.60" stroke="#222" stroke-width="1.0"/>
<rect x="234.60" y="521.10" width="7.40" height="23.60" fill="#e48799" stroke="none" stroke-width="1"/>
<line x1="234.60" y1="538.00" x2="242.00" y2="538.00" stroke="#222" stroke-width="1.0"/>
<circle cx="238.00" cy="510.60" r="2.4" fill="#cf0f3b"/>
<circle cx="238.00" cy="531.60" r="2.4" fill="#cf0f3b"/>
<circle cx="236.70" cy="537.60" r="2.4" fill="#cf0f3b"/>
<circle cx="238.80" cy="539.50" r="2.4" fill="#cf0f3b"/>
<circle cx="235.40" cy="543.40" r="2.4" fill="#cf0f3b"/>
<circle cx="239.90" cy="543.40" r="2.4" fill="#cf0f3b"/>
<line x1="249.80" y1="525.60" x2="249.80" y2="548.70" stroke="#4a4a4a" stroke-width="1.2"/>
<line x1="248.16" y1="525.60" x2="251.44" y2="525.60" stroke="#222" stroke-width="1.0"/>
<rect x="245.90" y="548.70" width="7.80" height="27.50" fill="#8dabca" stroke="none" stroke-width="1"/>
<line x1="245.90" y1="574.50" x2="253.70" y2="574.50" stroke="#222" stroke-width="1.0"/>
<circle cx="249.30" cy="525.60" r="2.4" fill="#125593"/>
<circle cx="249.30" cy="556.50" r="2.4" fill="#125593"/>
<circle cx="247.20" cy="574.40" r="2.4" fill="#125593"/>
<circle cx="249.80" cy="575.40" r="2.4" fill="#125593"/>
<circle cx="252.40" cy="574.40" r="2.4" fill="#125593"/>
<line x1="217.00" y1="490.20" x2="246.70" y2="490.20" stroke="#3c3c3c" stroke-width="1.15"/>
<text x="231.85" y="488.60" font-size="6.6" text-anchor="middle" fill="#333" font-style="italic">n.s.</text>
<line x1="217.00" y1="495.40" x2="235.40" y2="495.40" stroke="#3c3c3c" stroke-width="1.15"/>
<circle cx="226.20" cy="493.40" r="0.95" fill="#2a2a2a"/>
<line x1="225.70" y1="501.50" x2="248.50" y2="501.50" stroke="#3c3c3c" stroke-width="1.15"/>
<circle cx="235.67" cy="499.50" r="0.95" fill="#2a2a2a"/>
<circle cx="238.53" cy="499.50" r="0.95" fill="#2a2a2a"/>
<line x1="225.70" y1="505.90" x2="237.20" y2="505.90" stroke="#3c3c3c" stroke-width="1.15"/>
<circle cx="228.60" cy="503.90" r="0.95" fill="#2a2a2a"/>
<circle cx="231.45" cy="503.90" r="0.95" fill="#2a2a2a"/>
<circle cx="234.30" cy="503.90" r="0.95" fill="#2a2a2a"/>
<line x1="42.50" y1="632.40" x2="80.20" y2="632.40" stroke="#333" stroke-width="1.1"/>
<text x="61.95" y="642.6" font-size="9.6" text-anchor="middle" fill="#222" textLength="40.3" lengthAdjust="spacingAndGlyphs">IgA<tspan font-size="8" font-weight="bold" dy="-2.0">−</tspan><tspan dy="2.0">IgG</tspan><tspan font-size="8" font-weight="bold" dy="-2.0">−</tspan></text>
<line x1="100.00" y1="632.40" x2="137.60" y2="632.40" stroke="#333" stroke-width="1.1"/>
<text x="119.40" y="642.6" font-size="9.6" text-anchor="middle" fill="#222" textLength="40.2" lengthAdjust="spacingAndGlyphs">IgA<tspan font-size="7.4" dy="-2.7">+</tspan><tspan dy="2.7">IgG</tspan><tspan font-size="8" font-weight="bold" dy="-2.0">−</tspan></text>
<line x1="157.40" y1="632.40" x2="194.80" y2="632.40" stroke="#333" stroke-width="1.1"/>
<text x="176.70" y="642.6" font-size="9.6" text-anchor="middle" fill="#222" textLength="40.0" lengthAdjust="spacingAndGlyphs">IgA<tspan font-size="7.4" dy="-2.7">+</tspan><tspan dy="2.7">IgG</tspan><tspan font-size="7.4" dy="-2.7">+</tspan></text>
<line x1="214.80" y1="632.40" x2="251.80" y2="632.40" stroke="#333" stroke-width="1.1"/>
<text x="233.90" y="642.6" font-size="9.6" text-anchor="middle" fill="#222" textLength="39.6" lengthAdjust="spacingAndGlyphs">IgA<tspan font-size="8" font-weight="bold" dy="-2.0">−</tspan><tspan dy="2.0">IgG</tspan><tspan font-size="7.4" dy="-2.7">+</tspan></text>
<line x1="297.70" y1="467.50" x2="297.70" y2="624.70" stroke="#000" stroke-width="1.3"/>
<line x1="293.90" y1="624.10" x2="297.70" y2="624.10" stroke="#000" stroke-width="1.0"/>
<text x="291.60" y="626.34" font-size="7.9" text-anchor="end" fill="#222" stroke="#222" stroke-width="0.12" >0</text>
<line x1="293.90" y1="611.38" x2="297.70" y2="611.38" stroke="#000" stroke-width="1.0"/>
<text x="291.60" y="613.62" font-size="7.9" text-anchor="end" fill="#222" stroke="#222" stroke-width="0.12" >10</text>
<line x1="293.90" y1="598.66" x2="297.70" y2="598.66" stroke="#000" stroke-width="1.0"/>
<text x="291.60" y="600.90" font-size="7.9" text-anchor="end" fill="#222" stroke="#222" stroke-width="0.12" >20</text>
<line x1="293.90" y1="585.94" x2="297.70" y2="585.94" stroke="#000" stroke-width="1.0"/>
<text x="291.60" y="588.18" font-size="7.9" text-anchor="end" fill="#222" stroke="#222" stroke-width="0.12" >30</text>
<line x1="293.90" y1="573.22" x2="297.70" y2="573.22" stroke="#000" stroke-width="1.0"/>
<text x="291.60" y="575.46" font-size="7.9" text-anchor="end" fill="#222" stroke="#222" stroke-width="0.12" >40</text>
<line x1="293.90" y1="560.50" x2="297.70" y2="560.50" stroke="#000" stroke-width="1.0"/>
<text x="291.60" y="562.74" font-size="7.9" text-anchor="end" fill="#222" stroke="#222" stroke-width="0.12" >50</text>
<line x1="293.90" y1="547.78" x2="297.70" y2="547.78" stroke="#000" stroke-width="1.0"/>
<text x="291.60" y="550.02" font-size="7.9" text-anchor="end" fill="#222" stroke="#222" stroke-width="0.12" >60</text>
<line x1="293.90" y1="535.06" x2="297.70" y2="535.06" stroke="#000" stroke-width="1.0"/>
<text x="291.60" y="537.30" font-size="7.9" text-anchor="end" fill="#222" stroke="#222" stroke-width="0.12" >70</text>
<line x1="293.90" y1="522.34" x2="297.70" y2="522.34" stroke="#000" stroke-width="1.0"/>
<text x="291.60" y="524.58" font-size="7.9" text-anchor="end" fill="#222" stroke="#222" stroke-width="0.12" >80</text>
<line x1="293.90" y1="509.62" x2="297.70" y2="509.62" stroke="#000" stroke-width="1.0"/>
<text x="291.60" y="511.86" font-size="7.9" text-anchor="end" fill="#222" stroke="#222" stroke-width="0.12" >90</text>
<line x1="293.90" y1="496.90" x2="297.70" y2="496.90" stroke="#000" stroke-width="1.0"/>
<text x="291.60" y="499.14" font-size="7.9" text-anchor="end" fill="#222" stroke="#222" stroke-width="0.12" >100</text>
<line x1="293.90" y1="484.18" x2="297.70" y2="484.18" stroke="#000" stroke-width="1.0"/>
<text x="291.60" y="486.42" font-size="7.9" text-anchor="end" fill="#222" stroke="#222" stroke-width="0.12" >110</text>
<line x1="293.90" y1="471.46" x2="297.70" y2="471.46" stroke="#000" stroke-width="1.0"/>
<text x="291.60" y="473.70" font-size="7.9" text-anchor="end" fill="#222" stroke="#222" stroke-width="0.12" >120</text>
<line x1="297.10" y1="624.10" x2="513.50" y2="624.10" stroke="#000" stroke-width="1.3"/>
<line x1="303.10" y1="624.10" x2="303.10" y2="627.30" stroke="#000" stroke-width="1.0"/>
<line x1="314.45" y1="624.10" x2="314.45" y2="627.30" stroke="#000" stroke-width="1.0"/>
<line x1="325.80" y1="624.10" x2="325.80" y2="627.30" stroke="#000" stroke-width="1.0"/>
<line x1="337.15" y1="624.10" x2="337.15" y2="627.30" stroke="#000" stroke-width="1.0"/>
<line x1="348.50" y1="624.10" x2="348.50" y2="627.30" stroke="#000" stroke-width="1.0"/>
<line x1="359.85" y1="624.10" x2="359.85" y2="627.30" stroke="#000" stroke-width="1.0"/>
<line x1="371.20" y1="624.10" x2="371.20" y2="627.30" stroke="#000" stroke-width="1.0"/>
<line x1="382.55" y1="624.10" x2="382.55" y2="627.30" stroke="#000" stroke-width="1.0"/>
<line x1="393.90" y1="624.10" x2="393.90" y2="627.30" stroke="#000" stroke-width="1.0"/>
<line x1="405.25" y1="624.10" x2="405.25" y2="627.30" stroke="#000" stroke-width="1.0"/>
<line x1="416.60" y1="624.10" x2="416.60" y2="627.30" stroke="#000" stroke-width="1.0"/>
<line x1="427.95" y1="624.10" x2="427.95" y2="627.30" stroke="#000" stroke-width="1.0"/>
<line x1="439.30" y1="624.10" x2="439.30" y2="627.30" stroke="#000" stroke-width="1.0"/>
<line x1="450.65" y1="624.10" x2="450.65" y2="627.30" stroke="#000" stroke-width="1.0"/>
<line x1="462.00" y1="624.10" x2="462.00" y2="627.30" stroke="#000" stroke-width="1.0"/>
<line x1="473.35" y1="624.10" x2="473.35" y2="627.30" stroke="#000" stroke-width="1.0"/>
<line x1="484.70" y1="624.10" x2="484.70" y2="627.30" stroke="#000" stroke-width="1.0"/>
<line x1="496.05" y1="624.10" x2="496.05" y2="627.30" stroke="#000" stroke-width="1.0"/>
<line x1="507.40" y1="624.10" x2="507.40" y2="627.30" stroke="#000" stroke-width="1.0"/>
<text x="272.60" y="548.00" font-size="9.0" text-anchor="middle" fill="#222" stroke="#222" stroke-width="0.18" textLength="113.9" lengthAdjust="spacingAndGlyphs" transform="rotate(-90 272.60 548.00)" >% of coated nasopharynx microbes</text>
<rect x="299.80" y="619.50" width="6.80" height="4.00" fill="#a88bb5" stroke="none" stroke-width="1"/>
<line x1="299.80" y1="621.50" x2="306.60" y2="621.50" stroke="#222" stroke-width="1.0"/>
<circle cx="301.50" cy="620.40" r="2.4" fill="#5c1a6c"/>
<circle cx="305.60" cy="620.40" r="2.4" fill="#5c1a6c"/>
<circle cx="300.90" cy="623.40" r="2.4" fill="#5c1a6c"/>
<circle cx="306.20" cy="623.40" r="2.4" fill="#5c1a6c"/>
<circle cx="303.50" cy="624.40" r="2.4" fill="#5c1a6c"/>
<circle cx="303.50" cy="621.50" r="2.4" fill="#5c1a6c"/>
<line x1="314.95" y1="599.80" x2="314.95" y2="607.90" stroke="#4a4a4a" stroke-width="1.2"/>
<line x1="313.33" y1="599.80" x2="316.57" y2="599.80" stroke="#222" stroke-width="1.0"/>
<rect x="311.10" y="607.90" width="7.70" height="13.90" fill="#a2dba7" stroke="none" stroke-width="1"/>
<line x1="311.10" y1="620.50" x2="318.80" y2="620.50" stroke="#222" stroke-width="1.0"/>
<circle cx="312.80" cy="599.80" r="2.4" fill="#3bb649"/>
<circle cx="317.00" cy="599.80" r="2.4" fill="#3bb649"/>
<circle cx="314.70" cy="615.90" r="2.4" fill="#3bb649"/>
<circle cx="312.40" cy="622.10" r="2.4" fill="#3bb649"/>
<circle cx="317.00" cy="621.80" r="2.4" fill="#3bb649"/>
<line x1="326.25" y1="560.80" x2="326.25" y2="573.60" stroke="#4a4a4a" stroke-width="1.2"/>
<line x1="324.63" y1="560.80" x2="327.87" y2="560.80" stroke="#222" stroke-width="1.0"/>
<rect x="322.40" y="573.60" width="7.70" height="48.20" fill="#e48799" stroke="none" stroke-width="1"/>
<line x1="322.40" y1="620.00" x2="330.10" y2="620.00" stroke="#222" stroke-width="1.0"/>
<circle cx="325.90" cy="560.80" r="2.4" fill="#cf0f3b"/>
<circle cx="325.90" cy="586.30" r="2.4" fill="#cf0f3b"/>
<circle cx="324.70" cy="621.00" r="2.4" fill="#cf0f3b"/>
<circle cx="327.00" cy="622.50" r="2.4" fill="#cf0f3b"/>
<line x1="337.85" y1="603.70" x2="337.85" y2="611.70" stroke="#4a4a4a" stroke-width="1.2"/>
<line x1="336.23" y1="603.70" x2="339.47" y2="603.70" stroke="#222" stroke-width="1.0"/>
<rect x="334.00" y="611.70" width="7.70" height="8.80" fill="#8dabca" stroke="none" stroke-width="1"/>
<line x1="334.00" y1="616.00" x2="341.70" y2="616.00" stroke="#222" stroke-width="1.0"/>
<circle cx="337.50" cy="603.70" r="2.4" fill="#125593"/>
<circle cx="335.50" cy="614.80" r="2.4" fill="#125593"/>
<circle cx="339.40" cy="614.80" r="2.4" fill="#125593"/>
<circle cx="336.30" cy="618.70" r="2.4" fill="#125593"/>
<circle cx="339.40" cy="618.70" r="2.4" fill="#125593"/>
<line x1="307.00" y1="549.00" x2="337.00" y2="549.00" stroke="#3c3c3c" stroke-width="1.15"/>
<text x="322.00" y="547.40" font-size="6.6" text-anchor="middle" fill="#333" font-style="italic">n.s.</text>
<line x1="308.00" y1="555.40" x2="325.80" y2="555.40" stroke="#3c3c3c" stroke-width="1.15"/>
<text x="316.90" y="553.80" font-size="6.6" text-anchor="middle" fill="#333" font-style="italic">n.s.</text>
<line x1="360.20" y1="576.90" x2="360.20" y2="599.50" stroke="#4a4a4a" stroke-width="1.2"/>
<line x1="358.65" y1="576.90" x2="361.75" y2="576.90" stroke="#222" stroke-width="1.0"/>
<rect x="356.50" y="599.50" width="7.40" height="14.80" fill="#a88bb5" stroke="none" stroke-width="1"/>
<line x1="356.50" y1="608.00" x2="363.90" y2="608.00" stroke="#222" stroke-width="1.0"/>
<circle cx="360.20" cy="576.90" r="2.4" fill="#5c1a6c"/>
<circle cx="360.20" cy="587.70" r="2.4" fill="#5c1a6c"/>
<circle cx="359.70" cy="596.30" r="2.4" fill="#5c1a6c"/>
<circle cx="358.50" cy="606.90" r="2.4" fill="#5c1a6c"/>
<circle cx="362.70" cy="611.90" r="2.4" fill="#5c1a6c"/>
<circle cx="359.70" cy="614.30" r="2.4" fill="#5c1a6c"/>
<circle cx="361.70" cy="616.10" r="2.4" fill="#5c1a6c"/>
<line x1="371.65" y1="517.70" x2="371.65" y2="533.00" stroke="#4a4a4a" stroke-width="1.2"/>
<line x1="369.95" y1="517.70" x2="373.35" y2="517.70" stroke="#222" stroke-width="1.0"/>
<line x1="371.65" y1="598.30" x2="371.65" y2="604.00" stroke="#4a4a4a" stroke-width="1.2"/>
<line x1="369.95" y1="604.00" x2="373.35" y2="604.00" stroke="#222" stroke-width="1.0"/>
<rect x="367.60" y="533.00" width="8.10" height="65.30" fill="#a2dba7" stroke="none" stroke-width="1"/>
<line x1="367.60" y1="587.20" x2="375.70" y2="587.20" stroke="#222" stroke-width="1.0"/>
<circle cx="371.60" cy="517.70" r="2.4" fill="#3bb649"/>
<circle cx="371.60" cy="526.80" r="2.4" fill="#3bb649"/>
<circle cx="371.60" cy="539.60" r="2.4" fill="#3bb649"/>
<circle cx="371.60" cy="577.90" r="2.4" fill="#3bb649"/>
<circle cx="373.30" cy="587.20" r="2.4" fill="#3bb649"/>
<circle cx="369.60" cy="590.90" r="2.4" fill="#3bb649"/>
<circle cx="370.10" cy="596.30" r="2.4" fill="#3bb649"/>
<circle cx="374.00" cy="599.10" r="2.4" fill="#3bb649"/>
<circle cx="371.60" cy="604.00" r="2.4" fill="#3bb649"/>
<rect x="379.80" y="620.50" width="6.20" height="3.50" fill="#e48799" stroke="none" stroke-width="1"/>
<circle cx="381.50" cy="622.00" r="2.4" fill="#cf0f3b"/>
<circle cx="384.60" cy="622.00" r="2.4" fill="#cf0f3b"/>
<circle cx="383.00" cy="624.00" r="2.4" fill="#cf0f3b"/>
<line x1="394.45" y1="577.40" x2="394.45" y2="602.50" stroke="#4a4a4a" stroke-width="1.2"/>
<line x1="392.79" y1="577.40" x2="396.11" y2="577.40" stroke="#222" stroke-width="1.0"/>
<line x1="394.45" y1="613.10" x2="394.45" y2="621.20" stroke="#4a4a4a" stroke-width="1.2"/>
<line x1="392.79" y1="621.20" x2="396.11" y2="621.20" stroke="#222" stroke-width="1.0"/>
<rect x="390.50" y="602.50" width="7.90" height="10.60" fill="#8dabca" stroke="none" stroke-width="1"/>
<line x1="390.50" y1="610.00" x2="398.40" y2="610.00" stroke="#222" stroke-width="1.0"/>
<circle cx="394.20" cy="577.40" r="2.4" fill="#125593"/>
<circle cx="391.80" cy="610.10" r="2.4" fill="#125593"/>
<circle cx="396.70" cy="610.60" r="2.4" fill="#125593"/>
<circle cx="394.20" cy="621.20" r="2.4" fill="#125593"/>
<line x1="365.60" y1="500.80" x2="394.70" y2="500.80" stroke="#3c3c3c" stroke-width="1.15"/>
<text x="380.15" y="499.20" font-size="6.6" text-anchor="middle" fill="#333" font-style="italic">n.s.</text>
<line x1="366.00" y1="506.70" x2="384.00" y2="506.70" stroke="#3c3c3c" stroke-width="1.15"/>
<text x="375.00" y="505.10" font-size="6.6" text-anchor="middle" fill="#333" font-style="italic">n.s.</text>
<line x1="372.00" y1="512.60" x2="383.00" y2="512.60" stroke="#3c3c3c" stroke-width="1.15"/>
<circle cx="376.07" cy="510.60" r="0.95" fill="#2a2a2a"/>
<circle cx="378.93" cy="510.60" r="0.95" fill="#2a2a2a"/>
<line x1="417.05" y1="530.00" x2="417.05" y2="533.00" stroke="#4a4a4a" stroke-width="1.2"/>
<line x1="415.39" y1="530.00" x2="418.71" y2="530.00" stroke="#222" stroke-width="1.0"/>
<line x1="417.05" y1="555.20" x2="417.05" y2="591.70" stroke="#4a4a4a" stroke-width="1.2"/>
<line x1="415.39" y1="591.70" x2="418.71" y2="591.70" stroke="#222" stroke-width="1.0"/>
<rect x="413.10" y="533.00" width="7.90" height="22.20" fill="#a88bb5" stroke="none" stroke-width="1"/>
<line x1="413.10" y1="544.00" x2="421.00" y2="544.00" stroke="#222" stroke-width="1.0"/>
<circle cx="415.30" cy="530.50" r="2.4" fill="#5c1a6c"/>
<circle cx="418.50" cy="530.00" r="2.4" fill="#5c1a6c"/>
<circle cx="416.80" cy="539.20" r="2.4" fill="#5c1a6c"/>
<circle cx="415.30" cy="544.60" r="2.4" fill="#5c1a6c"/>
<circle cx="417.70" cy="543.60" r="2.4" fill="#5c1a6c"/>
<circle cx="419.20" cy="547.80" r="2.4" fill="#5c1a6c"/>
<circle cx="415.30" cy="558.40" r="2.4" fill="#5c1a6c"/>
<circle cx="419.20" cy="554.70" r="2.4" fill="#5c1a6c"/>
<circle cx="416.80" cy="574.90" r="2.4" fill="#5c1a6c"/>
<circle cx="416.80" cy="591.70" r="2.4" fill="#5c1a6c"/>
<line x1="428.30" y1="549.50" x2="428.30" y2="562.60" stroke="#4a4a4a" stroke-width="1.2"/>
<line x1="426.75" y1="549.50" x2="429.85" y2="549.50" stroke="#222" stroke-width="1.0"/>
<line x1="428.30" y1="599.50" x2="428.30" y2="606.90" stroke="#4a4a4a" stroke-width="1.2"/>
<line x1="426.75" y1="606.90" x2="429.85" y2="606.90" stroke="#222" stroke-width="1.0"/>
<rect x="424.60" y="562.60" width="7.40" height="36.90" fill="#a2dba7" stroke="none" stroke-width="1"/>
<line x1="424.60" y1="576.10" x2="432.00" y2="576.10" stroke="#222" stroke-width="1.0"/>
<circle cx="428.30" cy="549.50" r="2.4" fill="#3bb649"/>
<circle cx="428.30" cy="559.40" r="2.4" fill="#3bb649"/>
<circle cx="425.90" cy="565.80" r="2.4" fill="#3bb649"/>
<circle cx="430.80" cy="565.80" r="2.4" fill="#3bb649"/>
<circle cx="428.30" cy="576.10" r="2.4" fill="#3bb649"/>
<circle cx="428.30" cy="589.20" r="2.4" fill="#3bb649"/>
<circle cx="428.30" cy="596.60" r="2.4" fill="#3bb649"/>
<circle cx="430.80" cy="602.00" r="2.4" fill="#3bb649"/>
<circle cx="426.60" cy="606.90" r="2.4" fill="#3bb649"/>
<line x1="439.40" y1="610.60" x2="439.40" y2="614.30" stroke="#4a4a4a" stroke-width="1.2"/>
<line x1="437.85" y1="610.60" x2="440.95" y2="610.60" stroke="#222" stroke-width="1.0"/>
<rect x="435.70" y="614.30" width="7.40" height="8.70" fill="#e48799" stroke="none" stroke-width="1"/>
<line x1="435.70" y1="618.00" x2="443.10" y2="618.00" stroke="#222" stroke-width="1.0"/>
<circle cx="439.40" cy="610.60" r="2.4" fill="#cf0f3b"/>
<circle cx="437.50" cy="614.30" r="2.4" fill="#cf0f3b"/>
<circle cx="440.70" cy="617.50" r="2.4" fill="#cf0f3b"/>
<circle cx="438.20" cy="620.50" r="2.4" fill="#cf0f3b"/>
<circle cx="437.50" cy="623.50" r="2.4" fill="#cf0f3b"/>
<line x1="451.00" y1="609.40" x2="451.00" y2="614.30" stroke="#4a4a4a" stroke-width="1.2"/>
<line x1="449.45" y1="614.30" x2="452.55" y2="614.30" stroke="#222" stroke-width="1.0"/>
<rect x="447.30" y="597.10" width="7.40" height="12.30" fill="#8dabca" stroke="none" stroke-width="1"/>
<line x1="447.30" y1="599.00" x2="454.70" y2="599.00" stroke="#222" stroke-width="1.0"/>
<circle cx="453.70" cy="595.40" r="2.4" fill="#125593"/>
<circle cx="450.50" cy="597.10" r="2.4" fill="#125593"/>
<circle cx="448.10" cy="598.30" r="2.4" fill="#125593"/>
<circle cx="451.80" cy="600.00" r="2.4" fill="#125593"/>
<circle cx="450.50" cy="607.70" r="2.4" fill="#125593"/>
<circle cx="450.50" cy="614.30" r="2.4" fill="#125593"/>
<line x1="414.80" y1="518.90" x2="444.40" y2="518.90" stroke="#3c3c3c" stroke-width="1.15"/>
<circle cx="429.60" cy="516.90" r="0.95" fill="#2a2a2a"/>
<line x1="414.80" y1="524.40" x2="433.30" y2="524.40" stroke="#3c3c3c" stroke-width="1.15"/>
<circle cx="421.20" cy="522.40" r="0.95" fill="#2a2a2a"/>
<circle cx="424.05" cy="522.40" r="0.95" fill="#2a2a2a"/>
<circle cx="426.90" cy="522.40" r="0.95" fill="#2a2a2a"/>
<line x1="473.65" y1="537.40" x2="473.65" y2="584.80" stroke="#4a4a4a" stroke-width="1.2"/>
<line x1="472.12" y1="537.40" x2="475.18" y2="537.40" stroke="#222" stroke-width="1.0"/>
<line x1="473.65" y1="599.70" x2="473.65" y2="612.90" stroke="#4a4a4a" stroke-width="1.2"/>
<line x1="472.12" y1="612.90" x2="475.18" y2="612.90" stroke="#222" stroke-width="1.0"/>
<rect x="470.00" y="584.80" width="7.30" height="14.90" fill="#a88bb5" stroke="none" stroke-width="1"/>
<line x1="470.00" y1="592.00" x2="477.30" y2="592.00" stroke="#222" stroke-width="1.0"/>
<circle cx="473.30" cy="537.40" r="2.4" fill="#5c1a6c"/>
<circle cx="473.30" cy="569.60" r="2.4" fill="#5c1a6c"/>
<circle cx="473.30" cy="577.00" r="2.4" fill="#5c1a6c"/>
<circle cx="471.30" cy="585.30" r="2.4" fill="#5c1a6c"/>
<circle cx="475.40" cy="585.90" r="2.4" fill="#5c1a6c"/>
<circle cx="471.30" cy="595.80" r="2.4" fill="#5c1a6c"/>
<circle cx="473.90" cy="597.10" r="2.4" fill="#5c1a6c"/>
<circle cx="476.00" cy="595.30" r="2.4" fill="#5c1a6c"/>
<circle cx="473.30" cy="606.80" r="2.4" fill="#5c1a6c"/>
<circle cx="473.30" cy="612.90" r="2.4" fill="#5c1a6c"/>
<line x1="485.15" y1="580.60" x2="485.15" y2="589.30" stroke="#4a4a4a" stroke-width="1.2"/>
<line x1="483.49" y1="580.60" x2="486.81" y2="580.60" stroke="#222" stroke-width="1.0"/>
<rect x="481.20" y="589.30" width="7.90" height="25.70" fill="#a2dba7" stroke="none" stroke-width="1"/>
<line x1="481.20" y1="600.50" x2="489.10" y2="600.50" stroke="#222" stroke-width="1.0"/>
<circle cx="485.10" cy="580.60" r="2.4" fill="#3bb649"/>
<circle cx="487.00" cy="589.30" r="2.4" fill="#3bb649"/>
<circle cx="483.30" cy="593.20" r="2.4" fill="#3bb649"/>
<circle cx="486.50" cy="601.10" r="2.4" fill="#3bb649"/>
<circle cx="483.30" cy="607.60" r="2.4" fill="#3bb649"/>
<circle cx="487.00" cy="608.90" r="2.4" fill="#3bb649"/>
<circle cx="485.90" cy="612.90" r="2.4" fill="#3bb649"/>
<circle cx="487.00" cy="619.90" r="2.4" fill="#3bb649"/>
<circle cx="483.30" cy="622.00" r="2.4" fill="#3bb649"/>
<line x1="496.55" y1="550.00" x2="496.55" y2="560.40" stroke="#4a4a4a" stroke-width="1.2"/>
<line x1="495.06" y1="560.40" x2="498.04" y2="560.40" stroke="#222" stroke-width="1.0"/>
<rect x="493.00" y="509.30" width="7.10" height="40.70" fill="#e48799" stroke="none" stroke-width="1"/>
<line x1="493.00" y1="513.50" x2="500.10" y2="513.50" stroke="#222" stroke-width="1.0"/>
<circle cx="496.20" cy="506.70" r="2.4" fill="#cf0f3b"/>
<circle cx="494.30" cy="515.10" r="2.4" fill="#cf0f3b"/>
<circle cx="498.30" cy="511.20" r="2.4" fill="#cf0f3b"/>
<circle cx="496.20" cy="540.20" r="2.4" fill="#cf0f3b"/>
<circle cx="496.20" cy="560.40" r="2.4" fill="#cf0f3b"/>
<line x1="508.10" y1="521.10" x2="508.10" y2="536.80" stroke="#4a4a4a" stroke-width="1.2"/>
<line x1="506.50" y1="521.10" x2="509.70" y2="521.10" stroke="#222" stroke-width="1.0"/>
<line x1="508.10" y1="551.30" x2="508.10" y2="573.50" stroke="#4a4a4a" stroke-width="1.2"/>
<line x1="506.50" y1="573.50" x2="509.70" y2="573.50" stroke="#222" stroke-width="1.0"/>
<rect x="504.30" y="536.80" width="7.60" height="14.50" fill="#8dabca" stroke="none" stroke-width="1"/>
<line x1="504.30" y1="542.50" x2="511.90" y2="542.50" stroke="#222" stroke-width="1.0"/>
<circle cx="508.00" cy="521.10" r="2.4" fill="#125593"/>
<circle cx="506.10" cy="541.30" r="2.4" fill="#125593"/>
<circle cx="510.00" cy="542.10" r="2.4" fill="#125593"/>
<circle cx="508.00" cy="544.70" r="2.4" fill="#125593"/>
<circle cx="508.00" cy="573.50" r="2.4" fill="#125593"/>
<line x1="477.30" y1="484.40" x2="506.90" y2="484.40" stroke="#3c3c3c" stroke-width="1.15"/>
<text x="492.10" y="482.80" font-size="6.6" text-anchor="middle" fill="#333" font-style="italic">n.s.</text>
<line x1="477.30" y1="489.70" x2="495.60" y2="489.70" stroke="#3c3c3c" stroke-width="1.15"/>
<circle cx="486.45" cy="487.70" r="0.95" fill="#2a2a2a"/>
<line x1="485.90" y1="496.20" x2="503.00" y2="496.20" stroke="#3c3c3c" stroke-width="1.15"/>
<circle cx="491.60" cy="494.20" r="0.95" fill="#2a2a2a"/>
<circle cx="494.45" cy="494.20" r="0.95" fill="#2a2a2a"/>
<circle cx="497.30" cy="494.20" r="0.95" fill="#2a2a2a"/>
<line x1="485.90" y1="500.70" x2="493.80" y2="500.70" stroke="#3c3c3c" stroke-width="1.15"/>
<circle cx="488.43" cy="498.70" r="0.95" fill="#2a2a2a"/>
<circle cx="491.28" cy="498.70" r="0.95" fill="#2a2a2a"/>
<line x1="301.30" y1="632.40" x2="338.20" y2="632.40" stroke="#333" stroke-width="1.1"/>
<text x="320.35" y="642.6" font-size="9.6" text-anchor="middle" fill="#222" textLength="39.5" lengthAdjust="spacingAndGlyphs">IgA<tspan font-size="8" font-weight="bold" dy="-2.0">−</tspan><tspan dy="2.0">IgD</tspan><tspan font-size="8" font-weight="bold" dy="-2.0">−</tspan></text>
<line x1="358.60" y1="632.40" x2="396.60" y2="632.40" stroke="#333" stroke-width="1.1"/>
<text x="378.20" y="642.6" font-size="9.6" text-anchor="middle" fill="#222" textLength="40.6" lengthAdjust="spacingAndGlyphs">IgA<tspan font-size="7.4" dy="-2.7">+</tspan><tspan dy="2.7">IgD</tspan><tspan font-size="8" font-weight="bold" dy="-2.0">−</tspan></text>
<line x1="414.80" y1="632.40" x2="453.00" y2="632.40" stroke="#333" stroke-width="1.1"/>
<text x="434.50" y="642.6" font-size="9.6" text-anchor="middle" fill="#222" textLength="40.8" lengthAdjust="spacingAndGlyphs">IgA<tspan font-size="7.4" dy="-2.7">+</tspan><tspan dy="2.7">IgD</tspan><tspan font-size="7.4" dy="-2.7">+</tspan></text>
<line x1="472.30" y1="632.40" x2="510.40" y2="632.40" stroke="#333" stroke-width="1.1"/>
<text x="491.95" y="642.6" font-size="9.6" text-anchor="middle" fill="#222" textLength="40.7" lengthAdjust="spacingAndGlyphs">IgA<tspan font-size="8" font-weight="bold" dy="-2.0">−</tspan><tspan dy="2.0">IgD</tspan><tspan font-size="7.4" dy="-2.7">+</tspan></text>
<rect x="0.55" y="0.55" width="518.9" height="647.9" fill="none" stroke="#000" stroke-width="1.2"/>
</svg></body></html>
